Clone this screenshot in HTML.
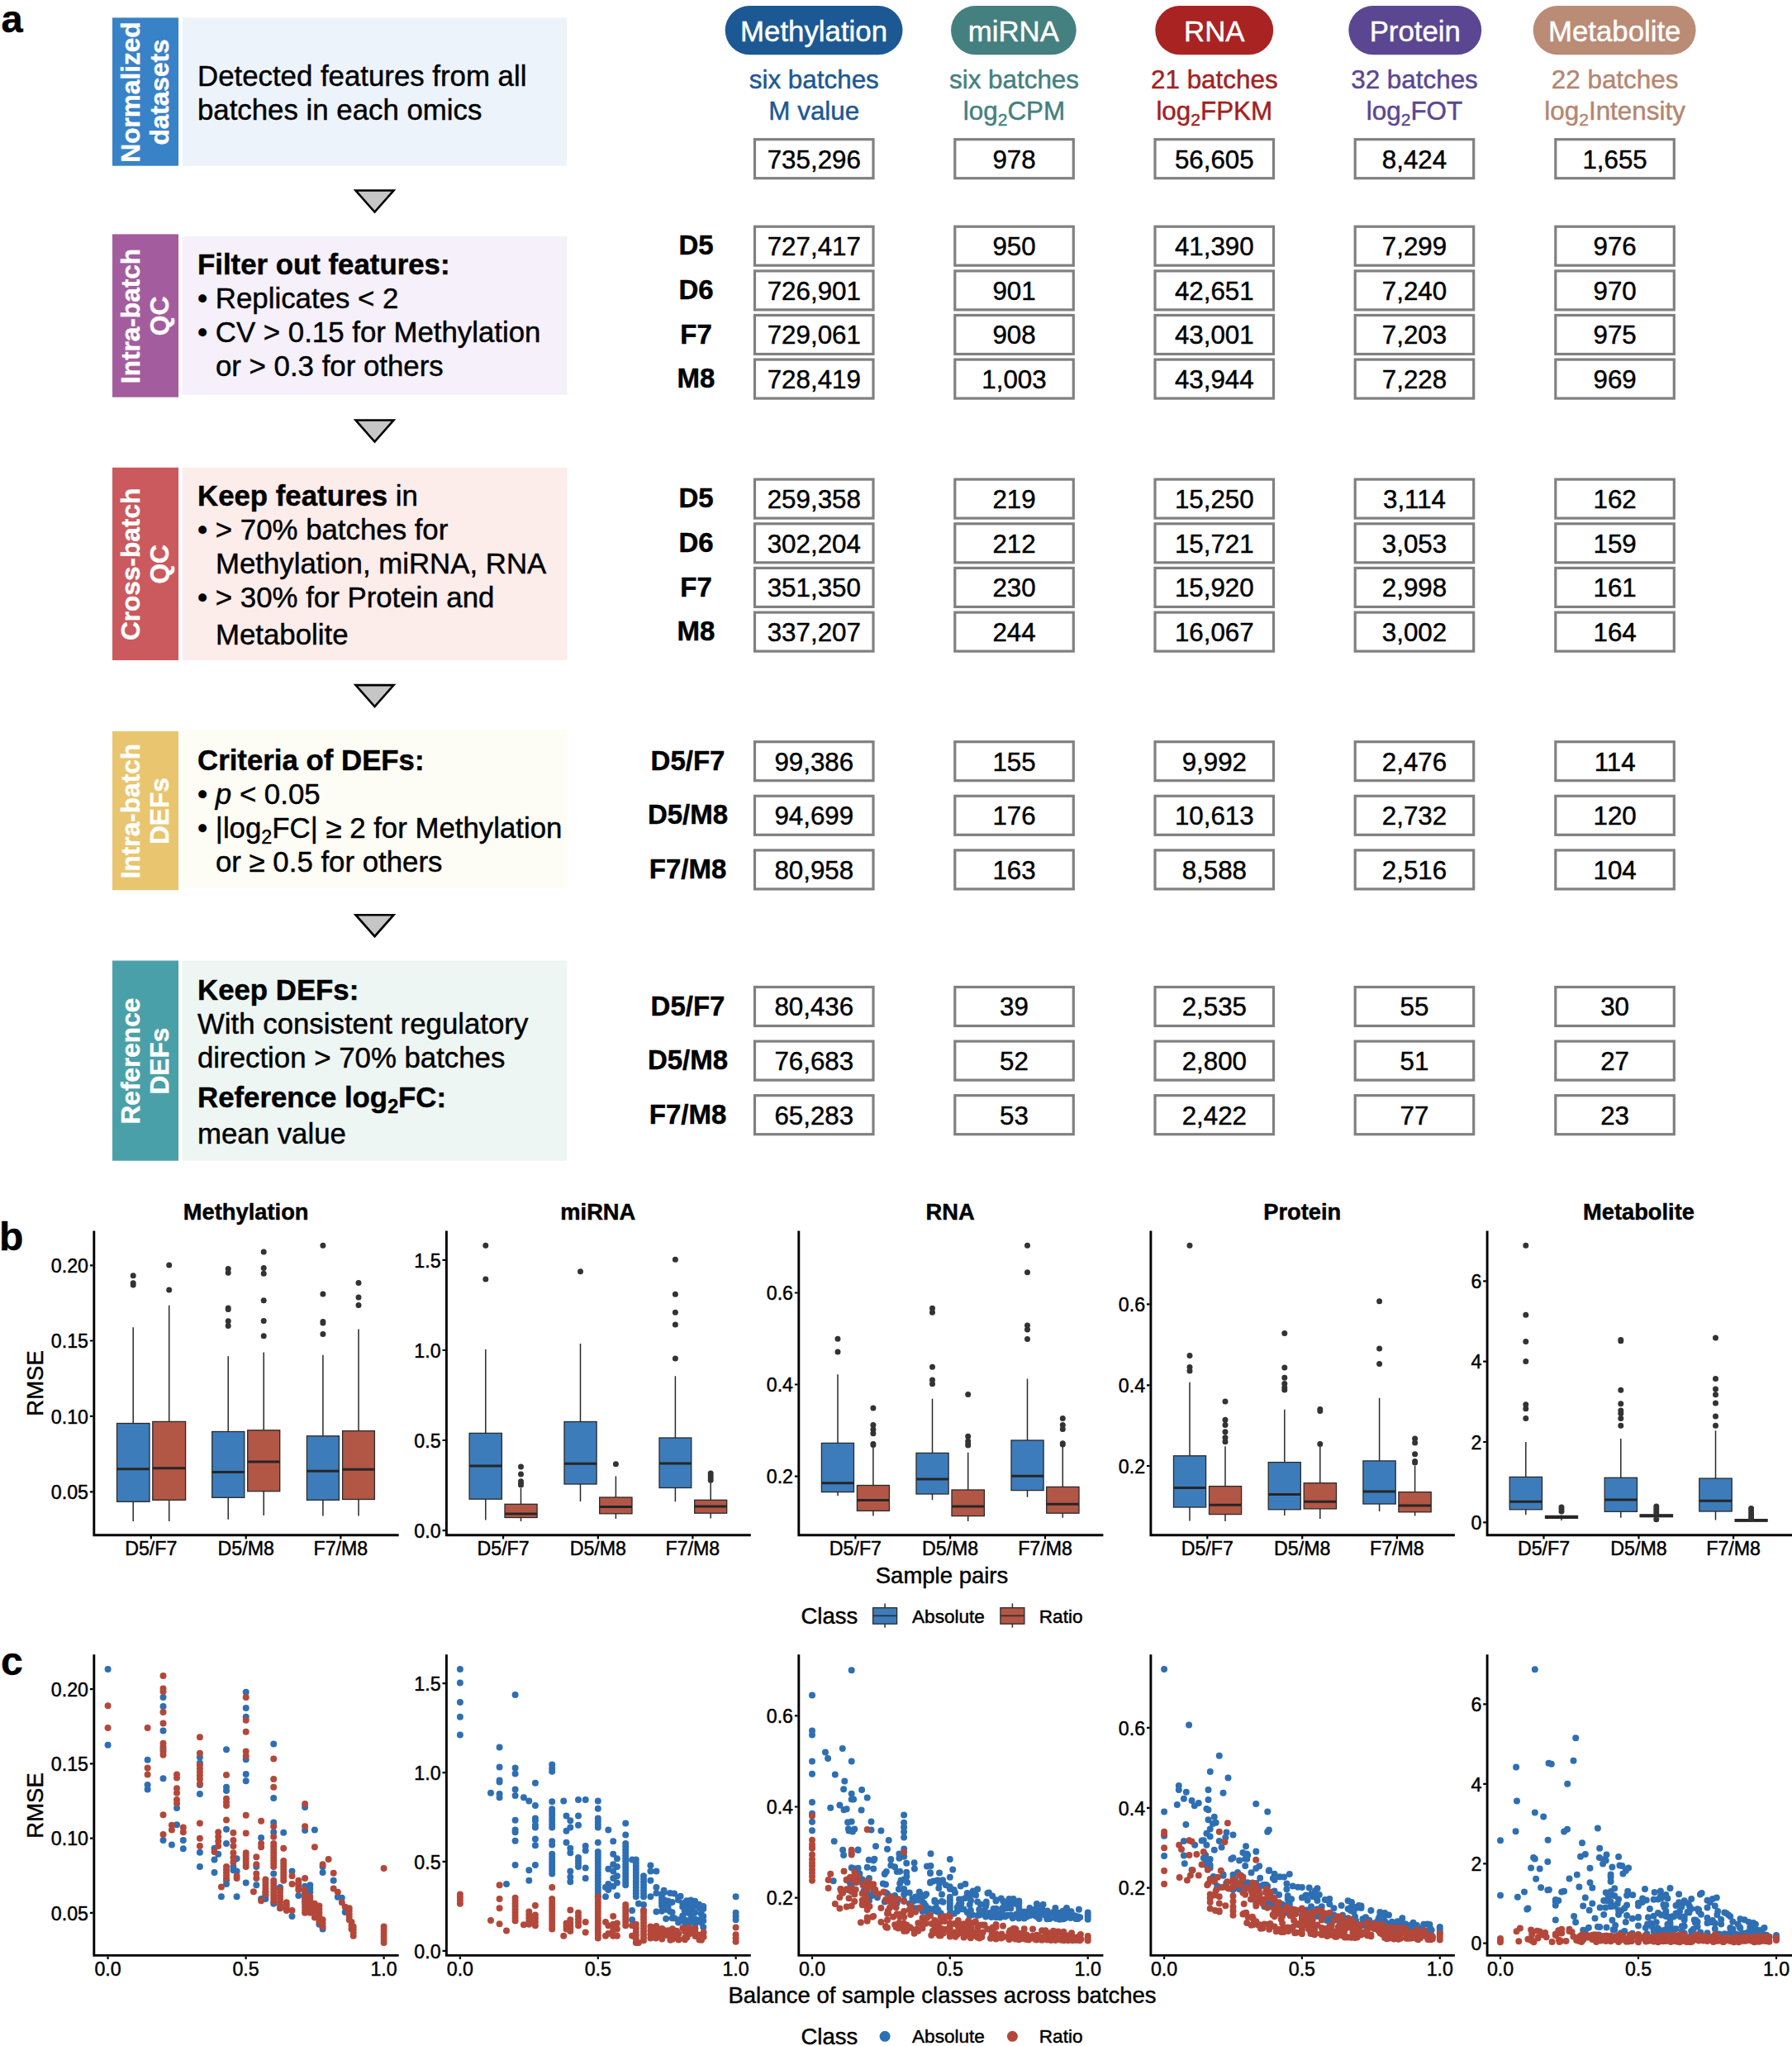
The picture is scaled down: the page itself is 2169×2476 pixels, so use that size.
<!DOCTYPE html>
<html lang="en"><head><meta charset="utf-8"><title>Figure</title>
<style>html,body{margin:0;padding:0;background:#fff}svg{display:block}text{font-family:"Liberation Sans", sans-serif;fill:#000;stroke:#000;stroke-width:0.45px}.b{font-weight:bold}.m{text-anchor:middle}.e{text-anchor:end}.t{font-size:34.8px}.n{font-size:31.3px}.n2{font-size:31.4px}.k{font-size:23.2px}.a{font-size:27.5px}.ax{stroke:#000;stroke-width:2.9;fill:none}.tk{stroke:#000;stroke-width:2.2;fill:none}.bx{stroke:#2a2a2a;stroke-width:1.3}.wh{stroke:#2a2a2a;stroke-width:1.5;fill:none}.md{stroke:#262626;stroke-width:3;fill:none}.ol{stroke:#333;stroke-width:7;stroke-linecap:round;fill:none}.sb{stroke:#2e6fb3;stroke-width:8;stroke-linecap:round;fill:none}.sr{stroke:#b3483a;stroke-width:8;stroke-linecap:round;fill:none}.cell{fill:#fff;stroke:#808080;stroke-width:3.2}</style></head><body>
<svg width="2169" height="2476" viewBox="0 0 2169 2476">
<rect width="2169" height="2476" fill="#fff"/>
<text class="b" x="1.5" y="38.5" font-size="47">a</text>
<text class="b" x="-1" y="1513" font-size="48">b</text>
<text class="b" x="1" y="2027" font-size="48">c</text>
<rect x="136" y="21.4" width="80" height="179.3" fill="#3882c8"/>
<rect x="221" y="21.4" width="465.3" height="179.3" fill="#edf3fa"/>
<text class="b m" font-size="31.6" style="fill:#fff;stroke:#fff" transform="translate(169 111.5) rotate(-90)">Normalized</text>
<text class="b m" font-size="31.6" style="fill:#fff;stroke:#fff" transform="translate(203.6 111.5) rotate(-90)">datasets</text>
<rect x="136" y="283.4" width="80" height="197.3" fill="#a35d9f"/>
<rect x="221" y="286" width="465.3" height="192" fill="#f5f0f9"/>
<text class="b m" font-size="31.6" style="fill:#fff;stroke:#fff" transform="translate(169 382.5) rotate(-90)">Intra-batch</text>
<text class="b m" font-size="31.6" style="fill:#fff;stroke:#fff" transform="translate(203.6 382.5) rotate(-90)">QC</text>
<rect x="136" y="565.8" width="80" height="233.2" fill="#ca5a5e"/>
<rect x="221" y="565.8" width="465.3" height="233.2" fill="#fcecea"/>
<text class="b m" font-size="31.6" style="fill:#fff;stroke:#fff" transform="translate(169 682.9) rotate(-90)">Cross-batch</text>
<text class="b m" font-size="31.6" style="fill:#fff;stroke:#fff" transform="translate(203.6 682.9) rotate(-90)">QC</text>
<rect x="136" y="885" width="80" height="192.2" fill="#e9c56f"/>
<rect x="221" y="883.5" width="465.3" height="191.5" fill="#fdfcf5"/>
<text class="b m" font-size="31.6" style="fill:#fff;stroke:#fff" transform="translate(169 981.6) rotate(-90)">Intra-batch</text>
<text class="b m" font-size="31.6" style="fill:#fff;stroke:#fff" transform="translate(203.6 981.6) rotate(-90)">DEFs</text>
<rect x="136" y="1162.5" width="80" height="242.2" fill="#4aa0a9"/>
<rect x="221" y="1162.5" width="465.3" height="242.2" fill="#eef6f3"/>
<text class="b m" font-size="31.6" style="fill:#fff;stroke:#fff" transform="translate(169 1284.1) rotate(-90)">Reference</text>
<text class="b m" font-size="31.6" style="fill:#fff;stroke:#fff" transform="translate(203.6 1284.1) rotate(-90)">DEFs</text>
<path d="M430.5 230.5 H476.5 L453.5 256.5 Z" fill="#c6c6c6" stroke="#000" stroke-width="2.6" stroke-linejoin="miter"/>
<path d="M430.5 508.5 H476.5 L453.5 534.5 Z" fill="#c6c6c6" stroke="#000" stroke-width="2.6" stroke-linejoin="miter"/>
<path d="M430.5 829.1 H476.5 L453.5 855.1 Z" fill="#c6c6c6" stroke="#000" stroke-width="2.6" stroke-linejoin="miter"/>
<path d="M430.5 1107.2 H476.5 L453.5 1133.2 Z" fill="#c6c6c6" stroke="#000" stroke-width="2.6" stroke-linejoin="miter"/>
<text class="t" x="239" y="103.5">Detected features from all</text>
<text class="t" x="239" y="144.5">batches in each omics</text>
<text class="t b" x="239" y="332.3">Filter out features:</text>
<text class="t" x="239" y="373.3">• Replicates &lt; 2</text>
<text class="t" x="239" y="414.3">• CV &gt; 0.15 for Methylation</text>
<text class="t" x="261" y="455.3">or &gt; 0.3 for others</text>
<text class="t" x="239" y="612.3"><tspan class="b">Keep features</tspan> in</text>
<text class="t" x="239" y="653.3">• &gt; 70% batches for</text>
<text class="t" x="261" y="694.3">Methylation, miRNA, RNA</text>
<text class="t" x="239" y="735.3">• &gt; 30% for Protein and</text>
<text class="t" x="261" y="780.2">Metabolite</text>
<text class="t b" x="239" y="931.5">Criteria of DEFs:</text>
<text class="t" x="239" y="972.5">• <tspan font-style="italic">p</tspan> &lt; 0.05</text>
<text class="t" x="239" y="1013.5">• |log<tspan dy="7.5" font-size="0.67em">2</tspan><tspan dy="-7.5">FC| ≥ 2 for Methylation</tspan></text>
<text class="t" x="261" y="1054.5">or ≥ 0.5 for others</text>
<text class="t b" x="239" y="1210.2">Keep DEFs:</text>
<text class="t" x="239" y="1251.2">With consistent regulatory</text>
<text class="t" x="239" y="1292.2">direction &gt; 70% batches</text>
<text class="t b" x="239" y="1339.5">Reference log<tspan dy="7.5" font-size="0.67em">2</tspan><tspan dy="-7.5">FC:</tspan></text>
<text class="t" x="239" y="1384">mean value</text>
<rect x="877.7" y="7" width="214.8" height="59.2" rx="29.6" fill="#1c5894"/>
<text class="m" x="985.1" y="50" font-size="34.8" style="fill:#fff;stroke:#fff">Methylation</text>
<text class="m n2" x="985.3" y="106.6" style="fill:#1c5894;stroke:#1c5894">six batches</text>
<text class="m n2" x="985.3" y="144.5" style="fill:#1c5894;stroke:#1c5894">M value</text>
<rect x="1151" y="7" width="151.7" height="59.2" rx="29.6" fill="#44807f"/>
<text class="m" x="1226.8" y="50" font-size="34.8" style="fill:#fff;stroke:#fff">miRNA</text>
<text class="m n2" x="1227.5" y="106.6" style="fill:#44807f;stroke:#44807f">six batches</text>
<text class="m n2" x="1227.5" y="144.5" style="fill:#44807f;stroke:#44807f">log<tspan dy="7.5" font-size="0.67em">2</tspan><tspan dy="-7.5">CPM</tspan></text>
<rect x="1398.3" y="7" width="142.9" height="59.2" rx="29.6" fill="#a92323"/>
<text class="m" x="1469.8" y="50" font-size="34.8" style="fill:#fff;stroke:#fff">RNA</text>
<text class="m n2" x="1469.8" y="106.6" style="fill:#a02222;stroke:#a02222">21 batches</text>
<text class="m n2" x="1469.8" y="144.5" style="fill:#a02222;stroke:#a02222">log<tspan dy="7.5" font-size="0.67em">2</tspan><tspan dy="-7.5">FPKM</tspan></text>
<rect x="1632.3" y="7" width="160.9" height="59.2" rx="29.6" fill="#5b4692"/>
<text class="m" x="1712.8" y="50" font-size="34.8" style="fill:#fff;stroke:#fff">Protein</text>
<text class="m n2" x="1712" y="106.6" style="fill:#5b4692;stroke:#5b4692">32 batches</text>
<text class="m n2" x="1712" y="144.5" style="fill:#5b4692;stroke:#5b4692">log<tspan dy="7.5" font-size="0.67em">2</tspan><tspan dy="-7.5">FOT</tspan></text>
<rect x="1855.7" y="7" width="196.9" height="59.2" rx="29.6" fill="#ba8b75"/>
<text class="m" x="1954.2" y="50" font-size="34.8" style="fill:#fff;stroke:#fff">Metabolite</text>
<text class="m n2" x="1954.6" y="106.6" style="fill:#b58670;stroke:#b58670">22 batches</text>
<text class="m n2" x="1954.6" y="144.5" style="fill:#b58670;stroke:#b58670">log<tspan dy="7.5" font-size="0.67em">2</tspan><tspan dy="-7.5">Intensity</tspan></text>
<rect class="cell" x="913.5" y="168.7" width="143.5" height="47"/>
<text class="m n" x="985.3" y="203.6">735,296</text>
<rect class="cell" x="1155.8" y="168.7" width="143.5" height="47"/>
<text class="m n" x="1227.5" y="203.6">978</text>
<rect class="cell" x="1398" y="168.7" width="143.5" height="47"/>
<text class="m n" x="1469.8" y="203.6">56,605</text>
<rect class="cell" x="1640.2" y="168.7" width="143.5" height="47"/>
<text class="m n" x="1712" y="203.6">8,424</text>
<rect class="cell" x="1882.8" y="168.7" width="143.5" height="47"/>
<text class="m n" x="1954.6" y="203.6">1,655</text>
<text class="b m" x="842.5" y="308.3" font-size="33">D5</text>
<rect class="cell" x="913.5" y="274.2" width="143.5" height="47"/>
<text class="m n" x="985.3" y="309.1">727,417</text>
<rect class="cell" x="1155.8" y="274.2" width="143.5" height="47"/>
<text class="m n" x="1227.5" y="309.1">950</text>
<rect class="cell" x="1398" y="274.2" width="143.5" height="47"/>
<text class="m n" x="1469.8" y="309.1">41,390</text>
<rect class="cell" x="1640.2" y="274.2" width="143.5" height="47"/>
<text class="m n" x="1712" y="309.1">7,299</text>
<rect class="cell" x="1882.8" y="274.2" width="143.5" height="47"/>
<text class="m n" x="1954.6" y="309.1">976</text>
<text class="b m" x="842.5" y="362" font-size="33">D6</text>
<rect class="cell" x="913.5" y="327.9" width="143.5" height="47"/>
<text class="m n" x="985.3" y="362.8">726,901</text>
<rect class="cell" x="1155.8" y="327.9" width="143.5" height="47"/>
<text class="m n" x="1227.5" y="362.8">901</text>
<rect class="cell" x="1398" y="327.9" width="143.5" height="47"/>
<text class="m n" x="1469.8" y="362.8">42,651</text>
<rect class="cell" x="1640.2" y="327.9" width="143.5" height="47"/>
<text class="m n" x="1712" y="362.8">7,240</text>
<rect class="cell" x="1882.8" y="327.9" width="143.5" height="47"/>
<text class="m n" x="1954.6" y="362.8">970</text>
<text class="b m" x="842.5" y="415.6" font-size="33">F7</text>
<rect class="cell" x="913.5" y="381.5" width="143.5" height="47"/>
<text class="m n" x="985.3" y="416.4">729,061</text>
<rect class="cell" x="1155.8" y="381.5" width="143.5" height="47"/>
<text class="m n" x="1227.5" y="416.4">908</text>
<rect class="cell" x="1398" y="381.5" width="143.5" height="47"/>
<text class="m n" x="1469.8" y="416.4">43,001</text>
<rect class="cell" x="1640.2" y="381.5" width="143.5" height="47"/>
<text class="m n" x="1712" y="416.4">7,203</text>
<rect class="cell" x="1882.8" y="381.5" width="143.5" height="47"/>
<text class="m n" x="1954.6" y="416.4">975</text>
<text class="b m" x="842.5" y="469.2" font-size="33">M8</text>
<rect class="cell" x="913.5" y="435.1" width="143.5" height="47"/>
<text class="m n" x="985.3" y="470">728,419</text>
<rect class="cell" x="1155.8" y="435.1" width="143.5" height="47"/>
<text class="m n" x="1227.5" y="470">1,003</text>
<rect class="cell" x="1398" y="435.1" width="143.5" height="47"/>
<text class="m n" x="1469.8" y="470">43,944</text>
<rect class="cell" x="1640.2" y="435.1" width="143.5" height="47"/>
<text class="m n" x="1712" y="470">7,228</text>
<rect class="cell" x="1882.8" y="435.1" width="143.5" height="47"/>
<text class="m n" x="1954.6" y="470">969</text>
<text class="b m" x="842.5" y="614.2" font-size="33">D5</text>
<rect class="cell" x="913.5" y="580.1" width="143.5" height="47"/>
<text class="m n" x="985.3" y="615">259,358</text>
<rect class="cell" x="1155.8" y="580.1" width="143.5" height="47"/>
<text class="m n" x="1227.5" y="615">219</text>
<rect class="cell" x="1398" y="580.1" width="143.5" height="47"/>
<text class="m n" x="1469.8" y="615">15,250</text>
<rect class="cell" x="1640.2" y="580.1" width="143.5" height="47"/>
<text class="m n" x="1712" y="615">3,114</text>
<rect class="cell" x="1882.8" y="580.1" width="143.5" height="47"/>
<text class="m n" x="1954.6" y="615">162</text>
<text class="b m" x="842.5" y="667.9" font-size="33">D6</text>
<rect class="cell" x="913.5" y="633.8" width="143.5" height="47"/>
<text class="m n" x="985.3" y="668.7">302,204</text>
<rect class="cell" x="1155.8" y="633.8" width="143.5" height="47"/>
<text class="m n" x="1227.5" y="668.7">212</text>
<rect class="cell" x="1398" y="633.8" width="143.5" height="47"/>
<text class="m n" x="1469.8" y="668.7">15,721</text>
<rect class="cell" x="1640.2" y="633.8" width="143.5" height="47"/>
<text class="m n" x="1712" y="668.7">3,053</text>
<rect class="cell" x="1882.8" y="633.8" width="143.5" height="47"/>
<text class="m n" x="1954.6" y="668.7">159</text>
<text class="b m" x="842.5" y="721.5" font-size="33">F7</text>
<rect class="cell" x="913.5" y="687.4" width="143.5" height="47"/>
<text class="m n" x="985.3" y="722.3">351,350</text>
<rect class="cell" x="1155.8" y="687.4" width="143.5" height="47"/>
<text class="m n" x="1227.5" y="722.3">230</text>
<rect class="cell" x="1398" y="687.4" width="143.5" height="47"/>
<text class="m n" x="1469.8" y="722.3">15,920</text>
<rect class="cell" x="1640.2" y="687.4" width="143.5" height="47"/>
<text class="m n" x="1712" y="722.3">2,998</text>
<rect class="cell" x="1882.8" y="687.4" width="143.5" height="47"/>
<text class="m n" x="1954.6" y="722.3">161</text>
<text class="b m" x="842.5" y="775.2" font-size="33">M8</text>
<rect class="cell" x="913.5" y="741.1" width="143.5" height="47"/>
<text class="m n" x="985.3" y="776">337,207</text>
<rect class="cell" x="1155.8" y="741.1" width="143.5" height="47"/>
<text class="m n" x="1227.5" y="776">244</text>
<rect class="cell" x="1398" y="741.1" width="143.5" height="47"/>
<text class="m n" x="1469.8" y="776">16,067</text>
<rect class="cell" x="1640.2" y="741.1" width="143.5" height="47"/>
<text class="m n" x="1712" y="776">3,002</text>
<rect class="cell" x="1882.8" y="741.1" width="143.5" height="47"/>
<text class="m n" x="1954.6" y="776">164</text>
<text class="b m" x="832.5" y="931.8" font-size="33">D5/F7</text>
<rect class="cell" x="913.5" y="897.7" width="143.5" height="47"/>
<text class="m n" x="985.3" y="932.6">99,386</text>
<rect class="cell" x="1155.8" y="897.7" width="143.5" height="47"/>
<text class="m n" x="1227.5" y="932.6">155</text>
<rect class="cell" x="1398" y="897.7" width="143.5" height="47"/>
<text class="m n" x="1469.8" y="932.6">9,992</text>
<rect class="cell" x="1640.2" y="897.7" width="143.5" height="47"/>
<text class="m n" x="1712" y="932.6">2,476</text>
<rect class="cell" x="1882.8" y="897.7" width="143.5" height="47"/>
<text class="m n" x="1954.6" y="932.6">114</text>
<text class="b m" x="832.5" y="997.4" font-size="33">D5/M8</text>
<rect class="cell" x="913.5" y="963.3" width="143.5" height="47"/>
<text class="m n" x="985.3" y="998.2">94,699</text>
<rect class="cell" x="1155.8" y="963.3" width="143.5" height="47"/>
<text class="m n" x="1227.5" y="998.2">176</text>
<rect class="cell" x="1398" y="963.3" width="143.5" height="47"/>
<text class="m n" x="1469.8" y="998.2">10,613</text>
<rect class="cell" x="1640.2" y="963.3" width="143.5" height="47"/>
<text class="m n" x="1712" y="998.2">2,732</text>
<rect class="cell" x="1882.8" y="963.3" width="143.5" height="47"/>
<text class="m n" x="1954.6" y="998.2">120</text>
<text class="b m" x="832.5" y="1063" font-size="33">F7/M8</text>
<rect class="cell" x="913.5" y="1028.9" width="143.5" height="47"/>
<text class="m n" x="985.3" y="1063.8">80,958</text>
<rect class="cell" x="1155.8" y="1028.9" width="143.5" height="47"/>
<text class="m n" x="1227.5" y="1063.8">163</text>
<rect class="cell" x="1398" y="1028.9" width="143.5" height="47"/>
<text class="m n" x="1469.8" y="1063.8">8,588</text>
<rect class="cell" x="1640.2" y="1028.9" width="143.5" height="47"/>
<text class="m n" x="1712" y="1063.8">2,516</text>
<rect class="cell" x="1882.8" y="1028.9" width="143.5" height="47"/>
<text class="m n" x="1954.6" y="1063.8">104</text>
<text class="b m" x="832.5" y="1228.6" font-size="33">D5/F7</text>
<rect class="cell" x="913.5" y="1194.5" width="143.5" height="47"/>
<text class="m n" x="985.3" y="1229.4">80,436</text>
<rect class="cell" x="1155.8" y="1194.5" width="143.5" height="47"/>
<text class="m n" x="1227.5" y="1229.4">39</text>
<rect class="cell" x="1398" y="1194.5" width="143.5" height="47"/>
<text class="m n" x="1469.8" y="1229.4">2,535</text>
<rect class="cell" x="1640.2" y="1194.5" width="143.5" height="47"/>
<text class="m n" x="1712" y="1229.4">55</text>
<rect class="cell" x="1882.8" y="1194.5" width="143.5" height="47"/>
<text class="m n" x="1954.6" y="1229.4">30</text>
<text class="b m" x="832.5" y="1294.2" font-size="33">D5/M8</text>
<rect class="cell" x="913.5" y="1260.1" width="143.5" height="47"/>
<text class="m n" x="985.3" y="1295">76,683</text>
<rect class="cell" x="1155.8" y="1260.1" width="143.5" height="47"/>
<text class="m n" x="1227.5" y="1295">52</text>
<rect class="cell" x="1398" y="1260.1" width="143.5" height="47"/>
<text class="m n" x="1469.8" y="1295">2,800</text>
<rect class="cell" x="1640.2" y="1260.1" width="143.5" height="47"/>
<text class="m n" x="1712" y="1295">51</text>
<rect class="cell" x="1882.8" y="1260.1" width="143.5" height="47"/>
<text class="m n" x="1954.6" y="1295">27</text>
<text class="b m" x="832.5" y="1359.8" font-size="33">F7/M8</text>
<rect class="cell" x="913.5" y="1325.7" width="143.5" height="47"/>
<text class="m n" x="985.3" y="1360.6">65,283</text>
<rect class="cell" x="1155.8" y="1325.7" width="143.5" height="47"/>
<text class="m n" x="1227.5" y="1360.6">53</text>
<rect class="cell" x="1398" y="1325.7" width="143.5" height="47"/>
<text class="m n" x="1469.8" y="1360.6">2,422</text>
<rect class="cell" x="1640.2" y="1325.7" width="143.5" height="47"/>
<text class="m n" x="1712" y="1360.6">77</text>
<rect class="cell" x="1882.8" y="1325.7" width="143.5" height="47"/>
<text class="m n" x="1954.6" y="1360.6">23</text>
<text class="b m" x="297.7" y="1476" font-size="27.3">Methylation</text>
<path class="ax" d="M113.8 1489.4 V1857.7 H482.7"/>
<text class="k e" x="107" y="1540">0.20</text>
<text class="k e" x="107" y="1631.2">0.15</text>
<text class="k e" x="107" y="1722.5">0.10</text>
<text class="k e" x="107" y="1814">0.05</text>
<text class="k m" x="182.8" y="1882">D5/F7</text>
<text class="k m" x="297.7" y="1882">D5/M8</text>
<text class="k m" x="412.4" y="1882">F7/M8</text>
<path class="tk" d="M112.5 1531.3h-3.6M112.5 1622.5h-3.6M112.5 1713.8h-3.6M112.5 1805.3h-3.6M182.8 1859v3.4M297.7 1859v3.4M412.4 1859v3.4"/>
<path class="wh" d="M161.2 1606.3V1722.5M161.2 1817.3V1841"/>
<rect class="bx" x="141.5" y="1722.5" width="39.5" height="94.8" fill="#3d7cbb"/>
<path class="md" d="M141.5 1777.8H181"/>
<path class="wh" d="M204.7 1579.8V1720.4M204.7 1815.3V1841"/>
<rect class="bx" x="184.8" y="1720.4" width="39.8" height="94.9" fill="#b25646"/>
<path class="md" d="M184.8 1776.7H224.6"/>
<path class="wh" d="M276.2 1641.2V1732.5M276.2 1812.3V1838.8"/>
<rect class="bx" x="256.7" y="1732.5" width="39.1" height="79.8" fill="#3d7cbb"/>
<path class="md" d="M256.7 1781.6H295.8"/>
<path class="wh" d="M319.2 1636.5V1730.8M319.2 1804.7V1834"/>
<rect class="bx" x="299.7" y="1730.8" width="39" height="73.9" fill="#b25646"/>
<path class="md" d="M299.7 1769H338.7"/>
<path class="wh" d="M390.9 1639.8V1737.8M390.9 1815.3V1834.6"/>
<rect class="bx" x="371.4" y="1737.8" width="39" height="77.5" fill="#3d7cbb"/>
<path class="md" d="M371.4 1780.2H410.4"/>
<path class="wh" d="M434 1608.6V1731.6M434 1814.5V1834.6"/>
<rect class="bx" x="414.6" y="1731.6" width="38.8" height="82.9" fill="#b25646"/>
<path class="md" d="M414.6 1778.2H453.4"/>
<path class="ol" d="M161.2 1543.8h0M161.2 1552.8h0M161.2 1555h0M204.7 1531h0M204.7 1560.9h0M276.2 1535.5h0M276.2 1540.2h0M276.2 1582.9h0M276.2 1584.6h0M276.2 1598.8h0M276.2 1604.4h0M319.2 1515.1h0M319.2 1534.6h0M319.2 1541.3h0M319.2 1573.7h0M319.2 1598.5h0M319.2 1616.7h0M390.9 1507.3h0M390.9 1565.9h0M390.9 1599.4h0M390.9 1601h0M390.9 1614.4h0M434 1552.5h0M434 1570h0M434 1579.6h0"/>
<text class="b m" x="723.8" y="1476" font-size="27.3">miRNA</text>
<path class="ax" d="M540.4 1489.4 V1857.7 H908.8"/>
<text class="k e" x="533.6" y="1533.6">1.5</text>
<text class="k e" x="533.6" y="1642.7">1.0</text>
<text class="k e" x="533.6" y="1751.7">0.5</text>
<text class="k e" x="533.6" y="1860.9">0.0</text>
<text class="k m" x="609.1" y="1882">D5/F7</text>
<text class="k m" x="723.8" y="1882">D5/M8</text>
<text class="k m" x="838.4" y="1882">F7/M8</text>
<path class="tk" d="M539.1 1524.9h-3.6M539.1 1634h-3.6M539.1 1743h-3.6M539.1 1852.2h-3.6M609.1 1859v3.4M723.8 1859v3.4M838.4 1859v3.4"/>
<path class="wh" d="M587.8 1633.1V1734.4M587.8 1814.2V1839.6"/>
<rect class="bx" x="568.1" y="1734.4" width="39.3" height="79.8" fill="#3d7cbb"/>
<path class="md" d="M568.1 1774H607.4"/>
<path class="wh" d="M630.5 1801V1820.3M630.5 1836.5V1841"/>
<rect class="bx" x="611" y="1820.3" width="39.1" height="16.2" fill="#b25646"/>
<path class="md" d="M611 1832H650.1"/>
<path class="wh" d="M702.5 1625.9V1720.5M702.5 1796V1817"/>
<rect class="bx" x="683" y="1720.5" width="39.1" height="75.5" fill="#3d7cbb"/>
<path class="md" d="M683 1771.2H722.1"/>
<path class="wh" d="M745.4 1786.6V1812M745.4 1831.8V1838"/>
<rect class="bx" x="725.7" y="1812" width="39.3" height="19.8" fill="#b25646"/>
<path class="md" d="M725.7 1823.4H765"/>
<path class="wh" d="M817.4 1665.2V1740M817.4 1800.5V1817.3"/>
<rect class="bx" x="798" y="1740" width="38.8" height="60.5" fill="#3d7cbb"/>
<path class="md" d="M798 1771H836.8"/>
<path class="wh" d="M860.2 1794.1V1815.3M860.2 1831.2V1837.4"/>
<rect class="bx" x="840.7" y="1815.3" width="39" height="15.9" fill="#b25646"/>
<path class="md" d="M840.7 1823.1H879.7"/>
<path class="ol" d="M587.8 1507.3h0M587.8 1548h0M630.5 1775.1h0M630.5 1784h0M630.5 1792.7h0M630.5 1795h0M630.5 1797h0M702.5 1538.8h0M745.4 1771.8h0M817.4 1524.3h0M817.4 1566.2h0M817.4 1588.2h0M817.4 1603h0M817.4 1644h0M860.2 1783h0M860.2 1785.8h0M860.2 1788.5h0M860.2 1791.3h0"/>
<text class="b m" x="1150.1" y="1476" font-size="27.3">RNA</text>
<path class="ax" d="M966.8 1489.4 V1857.7 H1335.4"/>
<text class="k e" x="960" y="1573.2">0.6</text>
<text class="k e" x="960" y="1684.2">0.4</text>
<text class="k e" x="960" y="1795.3">0.2</text>
<text class="k m" x="1035.4" y="1882">D5/F7</text>
<text class="k m" x="1150.1" y="1882">D5/M8</text>
<text class="k m" x="1265" y="1882">F7/M8</text>
<path class="tk" d="M965.5 1564.5h-3.6M965.5 1675.5h-3.6M965.5 1786.6h-3.6M1035.4 1859v3.4M1150.1 1859v3.4M1265 1859v3.4"/>
<path class="wh" d="M1014 1663.3V1746.4M1014 1805.6V1810.3"/>
<rect class="bx" x="994.4" y="1746.4" width="39.1" height="59.2" fill="#3d7cbb"/>
<path class="md" d="M994.4 1794.7H1033.5"/>
<path class="wh" d="M1056.9 1748V1797.5M1056.9 1828.4V1834.6"/>
<rect class="bx" x="1037.4" y="1797.5" width="39" height="30.9" fill="#b25646"/>
<path class="md" d="M1037.4 1815.6H1076.4"/>
<path class="wh" d="M1128.5 1692.8V1758.4M1128.5 1808V1815.3"/>
<rect class="bx" x="1109" y="1758.4" width="39.1" height="49.6" fill="#3d7cbb"/>
<path class="md" d="M1109 1790H1148.1"/>
<path class="wh" d="M1171.7 1757.8V1803M1171.7 1834.6V1841"/>
<rect class="bx" x="1152" y="1803" width="39.4" height="31.6" fill="#b25646"/>
<path class="md" d="M1152 1822.9H1191.4"/>
<path class="wh" d="M1243.5 1668.6V1743M1243.5 1803.6V1811.7"/>
<rect class="bx" x="1224" y="1743" width="39.1" height="60.6" fill="#3d7cbb"/>
<path class="md" d="M1224 1786.3H1263.1"/>
<path class="wh" d="M1286.3 1750.9V1799.4M1286.3 1831.2V1836.8"/>
<rect class="bx" x="1266.7" y="1799.4" width="39.3" height="31.8" fill="#b25646"/>
<path class="md" d="M1266.7 1820.3H1306"/>
<path class="ol" d="M1014 1620.3h0M1014 1635.9h0M1056.9 1704h0M1056.9 1724.6h0M1056.9 1730h0M1056.9 1734.7h0M1056.9 1747.5h0M1056.9 1748.6h0M1128.5 1583.2h0M1128.5 1588.2h0M1128.5 1654.3h0M1128.5 1670h0M1128.5 1674.7h0M1171.7 1687.5h0M1171.7 1738.3h0M1171.7 1743.9h0M1171.7 1746.7h0M1171.7 1748.9h0M1243.5 1507.3h0M1243.5 1539.7h0M1243.5 1604.1h0M1243.5 1608.9h0M1243.5 1620.6h0M1286.3 1716.5h0M1286.3 1724.4h0M1286.3 1729.4h0M1286.3 1746.7h0M1286.3 1748h0"/>
<text class="b m" x="1576.2" y="1476" font-size="27.3">Protein</text>
<path class="ax" d="M1392.9 1489.4 V1857.7 H1760.9"/>
<text class="k e" x="1386.1" y="1587.1">0.6</text>
<text class="k e" x="1386.1" y="1685.1">0.4</text>
<text class="k e" x="1386.1" y="1782.7">0.2</text>
<text class="k m" x="1461.3" y="1882">D5/F7</text>
<text class="k m" x="1576.2" y="1882">D5/M8</text>
<text class="k m" x="1690.9" y="1882">F7/M8</text>
<path class="tk" d="M1391.6 1578.4h-3.6M1391.6 1676.4h-3.6M1391.6 1774h-3.6M1461.3 1859v3.4M1576.2 1859v3.4M1690.9 1859v3.4"/>
<path class="wh" d="M1440 1672.7V1761.8M1440 1824V1840.4"/>
<rect class="bx" x="1420.5" y="1761.8" width="39.1" height="62.2" fill="#3d7cbb"/>
<path class="md" d="M1420.5 1800.5H1459.6"/>
<path class="wh" d="M1483 1750.3V1798.6M1483 1832.6V1841"/>
<rect class="bx" x="1463.5" y="1798.6" width="39.1" height="34" fill="#b25646"/>
<path class="md" d="M1463.5 1821.2H1502.6"/>
<path class="wh" d="M1554.8 1705.7V1769.6M1554.8 1826.8V1834"/>
<rect class="bx" x="1535.2" y="1769.6" width="39.1" height="57.2" fill="#3d7cbb"/>
<path class="md" d="M1535.2 1808.6H1574.3"/>
<path class="wh" d="M1597.8 1750.9V1794.7M1597.8 1825.9V1838"/>
<rect class="bx" x="1578.2" y="1794.7" width="39.3" height="31.2" fill="#b25646"/>
<path class="md" d="M1578.2 1817.3H1617.5"/>
<path class="wh" d="M1669.6 1691.7V1767.9M1669.6 1820V1829"/>
<rect class="bx" x="1649.9" y="1767.9" width="39.3" height="52.1" fill="#3d7cbb"/>
<path class="md" d="M1649.9 1805H1689.2"/>
<path class="wh" d="M1712.6 1773.8V1805.6M1712.6 1829.8V1834.6"/>
<rect class="bx" x="1692.9" y="1805.6" width="39.3" height="24.2" fill="#b25646"/>
<path class="md" d="M1692.9 1822H1732.2"/>
<path class="ol" d="M1440 1507.3h0M1440 1640.4h0M1440 1654.6h0M1440 1659h0M1483 1696h0M1483 1718.2h0M1483 1724.4h0M1483 1732.7h0M1483 1739.7h0M1483 1744.7h0M1554.8 1613.6h0M1554.8 1654.9h0M1554.8 1667.2h0M1554.8 1674.4h0M1554.8 1679.2h0M1554.8 1682h0M1597.8 1705.4h0M1597.8 1707.6h0M1597.8 1747.5h0M1669.6 1574.8h0M1669.6 1632h0M1669.6 1650.4h0M1712.6 1741.1h0M1712.6 1746.1h0M1712.6 1759.8h0M1712.6 1768.4h0M1712.6 1770.1h0"/>
<text class="b m" x="1983.5" y="1476" font-size="27.3">Metabolite</text>
<path class="ax" d="M1800.1 1489.4 V1857.7 H2169"/>
<text class="k e" x="1793.3" y="1559">6</text>
<text class="k e" x="1793.3" y="1656.3">4</text>
<text class="k e" x="1793.3" y="1753.7">2</text>
<text class="k e" x="1793.3" y="1851.1">0</text>
<text class="k m" x="1868.5" y="1882">D5/F7</text>
<text class="k m" x="1983.5" y="1882">D5/M8</text>
<text class="k m" x="2098.1" y="1882">F7/M8</text>
<path class="tk" d="M1798.8 1550.3h-3.6M1798.8 1647.6h-3.6M1798.8 1745h-3.6M1798.8 1842.4h-3.6M1868.5 1859v3.4M1983.5 1859v3.4M2098.1 1859v3.4"/>
<path class="wh" d="M1846.8 1745V1787.4M1846.8 1826.8V1833.2"/>
<rect class="bx" x="1827.2" y="1787.4" width="39.3" height="39.4" fill="#3d7cbb"/>
<path class="md" d="M1827.2 1817.3H1866.5"/>
<path class="wh" d="M1890 1833.5V1834.4M1890 1837.4V1840"/>
<rect class="bx" x="1870.5" y="1834.4" width="39" height="3" fill="#b25646"/>
<path class="md" d="M1870.5 1835.9H1909.5"/>
<path class="wh" d="M1961.8 1741.1V1788.3M1961.8 1829.3V1836.8"/>
<rect class="bx" x="1942.2" y="1788.3" width="39.3" height="41" fill="#3d7cbb"/>
<path class="md" d="M1942.2 1815H1981.5"/>
<path class="wh" d="M2004.8 1832V1832.9M2004.8 1835.7V1837"/>
<rect class="bx" x="1985.1" y="1832.9" width="39.4" height="2.8" fill="#b25646"/>
<path class="md" d="M1985.1 1834.3H2024.5"/>
<path class="wh" d="M2076.5 1731.3V1789.1M2076.5 1829V1839.6"/>
<rect class="bx" x="2056.8" y="1789.1" width="39.4" height="39.9" fill="#3d7cbb"/>
<path class="md" d="M2056.8 1816.2H2096.2"/>
<path class="wh" d="M2119.6 1838V1838.7M2119.6 1841.1V1842"/>
<rect class="bx" x="2100.1" y="1838.7" width="39" height="2.4" fill="#b25646"/>
<path class="md" d="M2100.1 1839.9H2139.1"/>
<path class="ol" d="M1846.8 1507.3h0M1846.8 1591.3h0M1846.8 1623.4h0M1846.8 1647.4h0M1846.8 1699.8h0M1846.8 1704.8h0M1846.8 1716.5h0M1890 1824h0M1890 1826.2h0M1890 1829h0M1961.8 1621.4h0M1961.8 1622.7h0M1961.8 1682.2h0M1961.8 1698.7h0M1961.8 1707h0M1961.8 1710.4h0M1961.8 1716.5h0M1961.8 1725.2h0M2004.8 1823h0M2004.8 1825h0M2004.8 1827h0M2004.8 1829h0M2004.8 1831h0M2004.8 1838.8h0M2076.5 1618.9h0M2076.5 1668.6h0M2076.5 1681.1h0M2076.5 1687.8h0M2076.5 1697.9h0M2076.5 1714h0M2076.5 1725.2h0M2119.6 1825.6h0M2119.6 1828h0M2119.6 1830.5h0M2119.6 1833h0M2119.6 1835.5h0M2119.6 1837.4h0"/>
<text class="a m" transform="translate(51.5 1674) rotate(-90)">RMSE</text>
<text class="a m" transform="translate(51.5 2185) rotate(-90)">RMSE</text>
<text class="a m" x="1140" y="1916">Sample pairs</text>
<text class="a m" x="1140.5" y="2423.8">Balance of sample classes across batches</text>
<text class="a" x="969.5" y="1965.3">Class</text>
<path class="wh" d="M1071.1 1940.4V1969.7"/>
<rect class="bx" x="1056.6" y="1945.7" width="29" height="19.5" fill="#3d7cbb"/>
<path class="wh" d="M1056.6 1955.4h29"/>
<text class="k" x="1104" y="1964" style="font-size:22.6px">Absolute</text>
<path class="wh" d="M1225.4 1940.4V1969.7"/>
<rect class="bx" x="1210.9" y="1945.7" width="29" height="19.5" fill="#b25646"/>
<path class="wh" d="M1210.9 1955.4h29"/>
<text class="k" x="1257.8" y="1964" style="font-size:22.6px">Ratio</text>
<text class="a" x="969.5" y="2473.6">Class</text>
<path class="sb" style="stroke-width:13" d="M1071.1 2464.3h0"/><path class="sr" style="stroke-width:13" d="M1225.4 2464.3h0"/>
<text class="k" x="1104" y="2472.2" style="font-size:22.6px">Absolute</text>
<text class="k" x="1257.8" y="2472.2" style="font-size:22.6px">Ratio</text>
<path class="ax" d="M113.8 2002.3 V2366.4 H482.7"/>
<text class="k e" x="107" y="2052.9">0.20</text>
<text class="k e" x="107" y="2143">0.15</text>
<text class="k e" x="107" y="2233.4">0.10</text>
<text class="k e" x="107" y="2323.5">0.05</text>
<text class="k m" x="130.6" y="2390.7">0.0</text>
<text class="k m" x="297.6" y="2390.7">0.5</text>
<text class="k m" x="464.6" y="2390.7">1.0</text>
<path class="tk" d="M112.5 2044.2h-3.6M112.5 2134.3h-3.6M112.5 2224.7h-3.6M112.5 2314.8h-3.6M130.6 2367.7v3.4M297.6 2367.7v3.4M464.6 2367.7v3.4"/>
<path class="sb" d="M130.6 2019.9h0M130.6 2111.7h0M178.6 2129.8h0M178.6 2160h0M178.6 2165.5h0M197.5 2053.9h0M197.5 2065.1h0M197.5 2094.4h0M197.5 2116.7h0M197.5 2152.2h0M197.5 2226.9h0M207.9 2232.5h0M214 2187.9h0M214 2208.2h0M221.8 2226.9h0M221.8 2237.3h0M241.9 2126.5h0M241.9 2133.5h0M241.9 2160h0M241.9 2171.1h0M241.9 2241.7h0M241.9 2259h0M259.5 2236.7h0M259.5 2250.6h0M259.5 2266h0M264.2 2243.7h0M267.9 2295.3h0M274 2117.3h0M274 2162.8h0M274 2166.9h0M274 2213.8h0M274 2231.1h0M274 2275.8h0M274 2279.9h0M282.4 2259h0M282.4 2263.2h0M286.6 2249.3h0M286.6 2264.6h0M286.6 2295.3h0M297.7 2047.8h0M297.7 2067.1h0M297.7 2077.7h0M297.7 2129.3h0M297.7 2146.9h0M297.7 2155.2h0M297.7 2278.5h0M310.3 2259h0M310.3 2281.3h0M316.1 2224.1h0M316.1 2298.1h0M321.4 2289.7h0M321.4 2293.9h0M321.4 2298.1h0M331.2 2110.6h0M331.2 2175.9h0M331.2 2205.4h0M331.2 2217.2h0M331.2 2267.4h0M331.2 2303.7h0M339 2284.1h0M339 2309.2h0M343.2 2217.7h0M353.5 2264.6h0M353.5 2319h0M361.3 2293.9h0M369.1 2187h0M369.1 2214.9h0M369.1 2282.7h0M369.1 2286.4h0M369.1 2290h0M369.1 2293.6h0M369.1 2297.2h0M369.1 2300.9h0M375.3 2281.3h0M375.3 2285.5h0M375.3 2289.7h0M380.9 2214.4h0M386.4 2328.8h0M390.6 2259h0M390.6 2266h0M390.6 2334.4h0M403.7 2275.8h0M408.8 2295.8h0M413.8 2296.7h0M417.7 2314h0"/>
<path class="sr" d="M130.6 2064.3h0M130.6 2091h0M178.6 2091h0M178.6 2139.6h0M178.6 2147.4h0M197.5 2028h0M197.5 2043.6h0M197.5 2047h0M197.5 2072.1h0M197.5 2085.5h0M197.5 2109.7h0M197.5 2113.9h0M197.5 2119.5h0M197.5 2123.7h0M197.5 2196.2h0M197.5 2220h0M207.9 2208.8h0M207.9 2214.4h0M214 2147.4h0M214 2151.6h0M214 2164.2h0M214 2169.7h0M214 2178.1h0M214 2182.3h0M221.8 2211.6h0M221.8 2217.2h0M241.9 2102.2h0M241.9 2121.7h0M241.9 2136.2h0M241.9 2140.4h0M241.9 2144.6h0M241.9 2148.8h0M241.9 2153h0M241.9 2158.6h0M241.9 2206.6h0M241.9 2224.7h0M241.9 2233.9h0M259.5 2240.9h0M264.2 2217.2h0M264.2 2222.7h0M264.2 2228.3h0M264.2 2233.9h0M267.9 2283.6h0M274 2148h0M274 2176.7h0M274 2180.9h0M274 2185.1h0M274 2202.4h0M274 2259h0M274 2262.5h0M274 2266h0M274 2269.5h0M274 2273h0M282.4 2218h0M282.4 2226.9h0M282.4 2233.9h0M282.4 2242.3h0M282.4 2247.9h0M282.4 2253.4h0M286.6 2270.2h0M286.6 2273h0M297.7 2053.9h0M297.7 2081.8h0M297.7 2095.8h0M297.7 2119.5h0M297.7 2125.1h0M297.7 2196.8h0M297.7 2218.6h0M297.7 2242.3h0M297.7 2245.6h0M297.7 2249h0M297.7 2252.3h0M297.7 2255.7h0M297.7 2259h0M306.9 2289.2h0M310.3 2247.3h0M310.3 2256.2h0M310.3 2267.4h0M310.3 2273h0M316.1 2203.8h0M316.1 2231.1h0M316.1 2235.3h0M316.1 2300.3h0M321.4 2274.4h0M321.4 2278h0M321.4 2281.6h0M321.4 2285.2h0M321.4 2288.9h0M321.4 2292.5h0M331.2 2128.4h0M331.2 2153h0M331.2 2162.8h0M331.2 2210.2h0M331.2 2222.7h0M331.2 2231.1h0M331.2 2234.6h0M331.2 2238.1h0M331.2 2241.6h0M331.2 2245.1h0M331.2 2248.6h0M331.2 2252h0M331.2 2255.5h0M331.2 2259h0M331.2 2275.8h0M331.2 2279.3h0M331.2 2282.9h0M331.2 2286.5h0M331.2 2290.1h0M331.2 2293.7h0M331.2 2297.3h0M331.2 2300.9h0M339 2286.9h0M339 2290.6h0M339 2294.4h0M339 2298.1h0M339 2301.8h0M339 2305.5h0M339 2309.2h0M343.2 2236.7h0M343.2 2252h0M343.2 2255.4h0M343.2 2258.8h0M343.2 2262.2h0M343.2 2265.6h0M343.2 2269h0M343.2 2272.4h0M343.2 2275.8h0M346.8 2302.3h0M346.8 2305.5h0M346.8 2308.8h0M346.8 2312h0M353.5 2270.2h0M353.5 2279.9h0M353.5 2312h0M361.3 2275.8h0M361.3 2279.5h0M361.3 2283.2h0M361.3 2286.9h0M369.1 2183.1h0M369.1 2210.2h0M369.1 2273h0M369.1 2286.9h0M369.1 2290.4h0M369.1 2293.9h0M369.1 2297.4h0M369.1 2300.9h0M369.1 2304.4h0M369.1 2307.8h0M369.1 2311.3h0M369.1 2314.8h0M375.3 2295.3h0M375.3 2299.2h0M375.3 2303.1h0M375.3 2307h0M375.3 2310.9h0M375.3 2314.8h0M380.9 2235.3h0M380.9 2303.7h0M380.9 2307h0M380.9 2310.4h0M380.9 2313.7h0M380.9 2317.1h0M380.9 2320.4h0M386.4 2306.5h0M386.4 2310.4h0M386.4 2314.3h0M386.4 2318.2h0M386.4 2322.1h0M386.4 2326h0M390.6 2256.2h0M390.6 2323.2h0M390.6 2327.4h0M390.6 2331.6h0M397.6 2250.1h0M403.7 2266.8h0M403.7 2285.5h0M408.8 2289.7h0M413.8 2302.3h0M417.7 2307.8h0M422.7 2309.2h0M422.7 2312.7h0M422.7 2316.2h0M422.7 2319.7h0M422.7 2323.2h0M425.5 2326h0M425.5 2330.2h0M425.5 2334.4h0M427.7 2331.6h0M427.7 2335.3h0M427.7 2339h0M427.7 2342.7h0M464.6 2261h0M464.6 2331.6h0M464.6 2335.5h0M464.6 2339.4h0M464.6 2343.3h0M464.6 2347.2h0M464.6 2351.1h0"/>
<path class="ax" d="M540.4 2002.3 V2366.4 H908.8"/>
<text class="k e" x="533.6" y="2045.9">1.5</text>
<text class="k e" x="533.6" y="2153.9">1.0</text>
<text class="k e" x="533.6" y="2261.6">0.5</text>
<text class="k e" x="533.6" y="2369.6">0.0</text>
<text class="k m" x="556.9" y="2390.7">0.0</text>
<text class="k m" x="723.8" y="2390.7">0.5</text>
<text class="k m" x="890.6" y="2390.7">1.0</text>
<path class="tk" d="M539.1 2037.2h-3.6M539.1 2145.2h-3.6M539.1 2252.9h-3.6M539.1 2360.9h-3.6M556.9 2367.7v3.4M723.8 2367.7v3.4M890.6 2367.7v3.4"/>
<path class="sb" d="M556.9 2019.9h0M556.9 2036.6h0M556.9 2060.1h0M556.9 2077.7h0M556.9 2099.4h0M594 2169.7h0M604.6 2114.5h0M604.6 2138.5h0M604.6 2154.4h0M604.6 2156.6h0M604.6 2171.1h0M604.6 2175.3h0M613 2279.9h0M623.6 2051.1h0M623.6 2139.6h0M623.6 2146.6h0M623.6 2165.5h0M623.6 2173.1h0M623.6 2202.7h0M623.6 2214.4h0M623.6 2217.2h0M623.6 2227.8h0M623.6 2257.1h0M633.9 2175.3h0M640.3 2179.5h0M640.3 2263.2h0M640.3 2275.8h0M647.9 2157.7h0M647.9 2185.1h0M647.9 2200.4h0M647.9 2203.2h0M647.9 2208.8h0M647.9 2211.6h0M647.9 2225.5h0M647.9 2233.3h0M647.9 2257.1h0M668.2 2135.4h0M668.2 2139.9h0M668.2 2143.8h0M668.2 2180.3h0M668.2 2189.3h0M668.2 2193h0M668.2 2196.7h0M668.2 2200.4h0M668.2 2204.1h0M668.2 2207.9h0M668.2 2211.6h0M668.2 2228.3h0M668.2 2232.5h0M668.2 2243.7h0M668.2 2247.1h0M668.2 2250.4h0M668.2 2253.8h0M668.2 2257.2h0M668.2 2260.6h0M668.2 2264h0M668.2 2267.4h0M682.2 2179.5h0M685.5 2197.6h0M685.5 2215.8h0M685.5 2229.7h0M690.3 2203.2h0M690.3 2211.6h0M690.3 2236.7h0M690.3 2242.3h0M690.3 2264.6h0M690.3 2271.6h0M690.3 2277.2h0M700 2178.1h0M700 2197.6h0M700 2208.8h0M700 2247.9h0M700 2251.6h0M700 2255.3h0M700 2259h0M708.7 2178.1h0M708.7 2233.9h0M708.7 2239.5h0M708.7 2260.4h0M708.7 2273h0M723.8 2179.5h0M723.8 2188.7h0M723.8 2200.4h0M723.8 2204.1h0M723.8 2207.9h0M723.8 2211.6h0M723.8 2229.7h0M723.8 2240.9h0M723.8 2244.5h0M723.8 2248.1h0M723.8 2251.8h0M723.8 2255.4h0M723.8 2259h0M723.8 2262.6h0M723.8 2266.3h0M723.8 2269.9h0M723.8 2273.5h0M723.8 2277.2h0M723.8 2280.8h0M723.8 2284.4h0M723.8 2288h0M723.8 2291.7h0M723.8 2295.3h0M733 2284.1h0M733 2295.3h0M736.3 2214.4h0M736.3 2261.8h0M736.3 2279.9h0M736.3 2286.9h0M742.2 2228.3h0M742.2 2243.7h0M742.2 2256.2h0M742.2 2264.6h0M742.2 2273h0M742.2 2282.7h0M746.9 2249.3h0M746.9 2259h0M746.9 2270.2h0M746.9 2278.5h0M746.9 2293.9h0M757.2 2206.6h0M757.2 2220.5h0M757.2 2231.1h0M757.2 2234.7h0M757.2 2238.3h0M757.2 2241.9h0M757.2 2245.5h0M757.2 2249.1h0M757.2 2252.6h0M757.2 2256.2h0M757.2 2259.8h0M757.2 2263.4h0M757.2 2267h0M757.2 2270.6h0M757.2 2274.2h0M757.2 2277.8h0M757.2 2281.3h0M765.1 2323.2h0M765.1 2250.6h0M765.1 2312h0M769.8 2250.6h0M769.8 2254.4h0M769.8 2258.1h0M769.8 2261.8h0M769.8 2265.5h0M769.8 2269.2h0M769.8 2273h0M769.8 2276.7h0M769.8 2280.4h0M769.8 2284.1h0M769.8 2287.8h0M769.8 2291.6h0M769.8 2295.3h0M772.9 2303.7h0M779 2270.2h0M779 2273.8h0M779 2277.4h0M779 2280.9h0M779 2284.5h0M779 2288.1h0M779 2291.7h0M779 2295.3h0M779 2305.1h0M779 2312h0M787.4 2257.6h0M787.4 2264.6h0M787.4 2275.8h0M787.4 2295.3h0M794.4 2264.6h0M794.4 2284.1h0M794.4 2291.1h0M794.4 2313.4h0M890.6 2295.3h0M890.6 2314.8h0M890.6 2319h0M890.6 2323.2h0M851.3 2332.2h0M803.6 2290.2h0M846.2 2324.1h0M838.7 2307.9h0M836.2 2317h0M833.7 2301.7h0M826.2 2307.5h0M841.2 2331.3h0M851.3 2319.1h0M826.2 2303.4h0M803.6 2287.7h0M828.7 2305.4h0M823.6 2323.9h0M831.2 2314.5h0M816.1 2291.6h0M821.1 2297.1h0M831.2 2329.1h0M838.7 2303.8h0M848.8 2326.7h0M841.2 2328.5h0M841.2 2325h0M821.1 2326.6h0M851.3 2306.9h0M841.2 2322.4h0M828.7 2312.6h0M828.7 2326.3h0M828.7 2323.3h0M821.1 2323.2h0M848.8 2315.9h0M833.7 2327.1h0M841.2 2314.5h0M813.6 2301.9h0M838.7 2303.6h0M848.8 2309.7h0M848.8 2311.1h0M851.3 2324.5h0M831.2 2312.7h0M836.2 2317h0M821.1 2299.3h0M831.2 2326.9h0M836.2 2299.5h0M843.7 2323.6h0M848.8 2307.2h0M841.2 2300.7h0M836.2 2306.5h0M816.1 2321.3h0M808.6 2306.9h0M846.2 2308.3h0M813.6 2321.2h0M826.2 2318.4h0M801 2299.6h0M811.1 2313.3h0M806.1 2321.9h0M801 2312.7h0M801 2295.5h0M843.7 2304.9h0M813.6 2314.2h0M823.6 2294.8h0M851.3 2307h0M803.6 2299.1h0M836.2 2321.7h0M808.6 2300.4h0M801 2302.7h0M843.7 2323.4h0M848.8 2325.4h0M846.2 2323.4h0M828.7 2302.4h0M838.7 2308.1h0M806.1 2304.2h0M846.2 2304.7h0M833.7 2309.6h0M831.2 2300.2h0M851.3 2310.1h0M836.2 2310.8h0M801 2306.3h0M811.1 2291h0M801 2292.4h0M806.1 2310.7h0"/>
<path class="sr" d="M556.9 2292.5h0M556.9 2296.2h0M556.9 2299.9h0M556.9 2303.7h0M594 2324h0M604.6 2281.3h0M604.6 2298.1h0M604.6 2309.2h0M604.6 2328.2h0M613 2336.6h0M623.6 2296.7h0M623.6 2300.2h0M623.6 2303.7h0M623.6 2307.1h0M623.6 2310.6h0M623.6 2314.1h0M623.6 2317.6h0M623.6 2321.1h0M623.6 2324.6h0M633.9 2329.3h0M640.3 2313.4h0M640.3 2317.3h0M640.3 2321.1h0M640.3 2324.9h0M640.3 2328.8h0M647.9 2305.9h0M647.9 2317.6h0M647.9 2321.8h0M647.9 2326h0M647.9 2330.2h0M668.2 2284.1h0M668.2 2298.1h0M668.2 2301.7h0M668.2 2305.3h0M668.2 2309h0M668.2 2312.6h0M668.2 2316.2h0M668.2 2319.8h0M668.2 2323.5h0M668.2 2327.1h0M668.2 2330.7h0M668.2 2334.4h0M682.2 2342.7h0M685.5 2327.4h0M685.5 2330.9h0M685.5 2334.4h0M690.3 2311.5h0M690.3 2323.2h0M690.3 2326.7h0M690.3 2330.2h0M690.3 2333.7h0M690.3 2337.1h0M700 2314.8h0M700 2318.7h0M700 2322.5h0M700 2326.3h0M700 2330.2h0M708.7 2326h0M708.7 2338.5h0M723.8 2295.3h0M723.8 2298.9h0M723.8 2302.5h0M723.8 2306.1h0M723.8 2309.6h0M723.8 2313.2h0M723.8 2316.8h0M723.8 2320.4h0M723.8 2324h0M723.8 2327.6h0M723.8 2331.2h0M723.8 2334.8h0M723.8 2338.3h0M723.8 2341.9h0M723.8 2345.5h0M733 2326h0M733 2342.7h0M736.3 2330.2h0M736.3 2339.9h0M742.2 2319h0M742.2 2328.8h0M742.2 2335.7h0M742.2 2342.7h0M746.9 2327.4h0M746.9 2334.4h0M746.9 2342.7h0M757.2 2305.1h0M757.2 2308.6h0M757.2 2312.2h0M757.2 2315.8h0M757.2 2319.4h0M757.2 2323h0M757.2 2326.6h0M757.2 2330.2h0M765.1 2330.2h0M765.1 2342.7h0M769.8 2328.8h0M769.8 2333.2h0M769.8 2337.7h0M769.8 2342.2h0M769.8 2346.6h0M769.8 2351.1h0M772.9 2351.1h0M779 2312h0M779 2315.7h0M779 2319.3h0M779 2322.9h0M779 2326.5h0M779 2330.2h0M779 2333.8h0M779 2337.4h0M779 2341h0M779 2344.7h0M779 2348.3h0M787.4 2331.6h0M787.4 2336.2h0M787.4 2340.9h0M787.4 2345.5h0M794.4 2331h0M794.4 2337.1h0M794.4 2342.7h0M890.6 2332.4h0M890.6 2341.3h0M890.6 2345.5h0M890.6 2349.7h0M821.4 2347.5h0M849 2347.7h0M803.8 2339.7h0M803.8 2341.9h0M829 2344.9h0M834 2336.7h0M816.4 2340.9h0M788.8 2332.9h0M813.9 2334.3h0M834 2336.5h0M796.3 2335.5h0M803.8 2336.1h0M821.4 2340h0M808.9 2342.6h0M801.3 2346.4h0M851.6 2343.9h0M816.4 2340.7h0M826.4 2333.2h0M816.4 2340.9h0M801.3 2334h0M841.5 2338.4h0M821.4 2346.6h0M829 2337.2h0M851.6 2338.5h0M788.8 2343.2h0M796.3 2337.5h0M841.5 2343.1h0M788.8 2339.8h0M813.9 2340.3h0M801.3 2341.8h0M793.8 2337.2h0M813.9 2346.8h0M793.8 2344.3h0M801.3 2341.6h0M813.9 2339.9h0M836.5 2338.9h0M796.3 2334.5h0M793.8 2345.6h0M829 2347.2h0M834 2332.7h0M831.5 2344.6h0M834 2340.5h0M811.4 2339.8h0M839 2336.9h0M821.4 2340.2h0M849 2345h0M849 2345.4h0M808.9 2336.3h0M818.9 2336.8h0M816.4 2343.2h0M846.5 2341.8h0M841.5 2334h0M811.4 2347.7h0M798.8 2339.2h0M793.8 2333.8h0M846.5 2347.6h0M831.5 2334.6h0M808.9 2336.3h0M831.5 2343.2h0M816.4 2340.9h0M796.3 2341.1h0M849 2344.3h0"/>
<path class="ax" d="M966.8 2002.3 V2366.4 H1335.4"/>
<text class="k e" x="960" y="2085">0.6</text>
<text class="k e" x="960" y="2195.2">0.4</text>
<text class="k e" x="960" y="2305.4">0.2</text>
<text class="k m" x="983" y="2390.7">0.0</text>
<text class="k m" x="1149.8" y="2390.7">0.5</text>
<text class="k m" x="1316.7" y="2390.7">1.0</text>
<path class="tk" d="M965.5 2076.3h-3.6M965.5 2186.5h-3.6M965.5 2296.7h-3.6M983 2367.7v3.4M1149.8 2367.7v3.4M1316.7 2367.7v3.4"/>
<path class="sb" d="M1283.3 2320.6h0M1021.1 2165.3h0M1135.5 2311.5h0M1307.2 2320.3h0M1054.5 2214.6h0M1193.8 2304.1h0M1057.2 2251.5h0M1316.7 2314.4h0M1211.8 2297.5h0M1238.8 2316.8h0M1111.3 2309.2h0M1181.1 2293.6h0M1193.1 2307.3h0M1119.5 2294h0M1030.7 2289.1h0M1058.4 2249.8h0M1269 2320.4h0M1225.7 2321.2h0M1176.8 2317.2h0M1221.4 2298.1h0M1121.1 2292.2h0M1033.1 2177.6h0M1136.3 2285h0M1133.2 2308.8h0M1219.4 2304.5h0M1162.7 2282.6h0M1210.5 2320.5h0M1094.2 2286.1h0M1049.7 2276.3h0M1304.8 2321.9h0M1017.5 2286.2h0M1085.7 2264.9h0M1089.2 2264.8h0M1252.5 2318h0M1027.5 2215.4h0M1154.9 2315.8h0M1088.4 2248.8h0M1149.8 2283.3h0M1283.3 2322.5h0M1215.1 2318.3h0M1230.2 2316.6h0M1054.5 2204.5h0M1226.5 2298.1h0M1141.1 2275.3h0M1126 2266.9h0M1038.6 2277.3h0M1205.5 2320.3h0M1122 2258.6h0M1239.7 2321.6h0M1088.4 2243.4h0M1038.6 2273.7h0M1149.8 2295.8h0M1220.1 2317.7h0M1030.7 2242.4h0M1030.7 2241.5h0M1205.5 2315.1h0M1190.1 2316.3h0M1149.8 2299.1h0M1270.7 2321.9h0M1149.8 2286.1h0M1213.1 2309.3h0M1168.4 2297.1h0M1083.1 2259.3h0M1205.5 2319.6h0M1094.2 2246.8h0M1030.7 2284.3h0M1193.8 2301.5h0M1034.3 2213.4h0M1068.8 2279.6h0M1026.9 2213.3h0M1040.5 2267.6h0M1154.6 2286.9h0M1126 2278.6h0M1024.7 2275.3h0M1216.6 2305.3h0M1072 2280.6h0M1193.1 2319.4h0M1090.6 2275.4h0M1246.4 2318.2h0M1030.7 2204.4h0M1228.9 2303.7h0M1085.7 2303h0M1137 2275.9h0M1074 2291.7h0M1052 2272.9h0M1183.2 2318h0M1106.9 2261.4h0M1021.1 2245h0M1094.2 2300.3h0M1140 2292.5h0M1173.7 2318.4h0M1254.1 2309.6h0M1010.8 2147.6h0M1221.4 2306.8h0M1149.8 2316h0M1214.7 2317.4h0M1177.7 2288.4h0M1233.3 2308h0M1287.7 2316.5h0M1030.7 2170.8h0M1265.4 2317.9h0M1287.7 2314.7h0M1030.7 2177.5h0M1051.7 2250.8h0M1239.7 2313.4h0M1141.5 2301.8h0M1052.5 2294.9h0M1233.3 2319.5h0M1089.2 2279.2h0M1137 2279.2h0M1168.4 2279.9h0M1078.3 2257.4h0M1038.6 2238.6h0M1214 2300.6h0M1108.1 2297.1h0M1098.1 2278h0M1288.9 2321.5h0M1246.4 2313.5h0M1100.8 2303.7h0M1235.5 2319.4h0M1030.7 2287.3h0M1264 2316.9h0M1111.3 2299.6h0M1030.7 2260.3h0M1020.1 2238.8h0M1246.4 2309h0M1026.1 2205.2h0M1149.8 2316.2h0M1118.6 2303.6h0M1267.6 2319.5h0M1275 2314h0M1304.8 2319.5h0M1131.3 2312.3h0M1316.7 2322.8h0M1250 2313.5h0M1296.5 2313.2h0M1138.7 2315.5h0M1108.1 2295.5h0M1038.6 2260.8h0M1081.1 2303.3h0M1233.3 2308.9h0M1195.4 2291.1h0M1122 2313.6h0M1009.7 2228.2h0M1283.3 2322.6h0M1316.7 2318.3h0M1060 2234.2h0M1303.9 2321.5h0M1269 2316h0M1254.1 2318.9h0M1201.2 2294.4h0M1233.3 2313.9h0M1212.4 2314.5h0M1286.4 2312.7h0M1078.3 2250.1h0M1032.1 2216.6h0M1134.7 2275.6h0M1124.2 2309.5h0M1134.7 2313.6h0M1316.7 2317.7h0M1112.8 2289.5h0M1163.4 2303.4h0M1257.8 2322.1h0M1233.3 2300.4h0M1140 2301.1h0M1316.7 2320.5h0M1131.3 2299.7h0M1094.2 2275.1h0M1052 2300h0M1302.8 2321.5h0M1277.4 2309h0M1137.9 2314.9h0M1097.2 2254.8h0M1191.6 2312h0M1078.3 2250.3h0M1094.2 2237.6h0M1305.9 2310.7h0M1002.1 2128h0M1045.6 2288.9h0M1280.6 2319.1h0M1100.8 2290.5h0M1156 2290.5h0M1041 2272.5h0M1284.4 2322.4h0M1042.6 2190.5h0M1113.6 2298.6h0M1292 2314.9h0M1062 2294.5h0M1185.6 2317.5h0M1116.5 2301.3h0M1175.1 2299.9h0M1224 2317.7h0M1149.8 2271.7h0M1209.1 2317.7h0M1005.2 2187.8h0M1267.6 2312.5h0M1217.5 2309.6h0M1055.5 2293.9h0M1033.1 2261.1h0M1149.8 2304h0M1062 2296.2h0M1269 2321.5h0M1149.8 2298.1h0M1041.4 2274.8h0M1028.5 2287.4h0M1104.3 2297.4h0M1282.2 2322.7h0M1236.6 2319.5h0M1137 2266.4h0M1216.6 2319.4h0M1250 2313.7h0M1261.1 2308.1h0M1302.2 2322.1h0M1259.5 2316.5h0M1066.4 2215.5h0M1275 2315.6h0M1126 2277.8h0M1170.7 2291h0M1173.7 2294.3h0M1233.3 2321.5h0M1043.7 2274.5h0M1094.2 2292.3h0M1149.8 2308.2h0M1038.6 2269.4h0M1261.1 2311.9h0M1245.9 2315.5h0M1074 2237.7h0M1205.5 2318.7h0M1045.6 2288.3h0M1173.7 2314.3h0M1036.4 2278.1h0M1297.1 2317.4h0M1254.9 2303.9h0M1094.2 2274.5h0M1158.6 2313.1h0M1160.3 2305.2h0M1272.8 2316.1h0M1205.5 2299.2h0M1183.2 2286.2h0M1173.7 2305h0M1149.8 2306.8h0M1174.9 2311.7h0M1126 2266.3h0M1256 2319.9h0M1116.5 2313.1h0M1083.1 2294.1h0M1209.9 2316h0M1242.5 2314.1h0M1199.5 2319.2h0M1108.1 2309.3h0M1024.7 2189.2h0M1295.8 2320.9h0M1226.5 2299.6h0M1163.8 2298.5h0M1016.4 2184.6h0M1286.4 2320.1h0M1158.6 2308.3h0M1205.5 2309.7h0M1049.7 2259.8h0M1196.9 2290.6h0M1105.9 2300.6h0M1214 2309.5h0M1106.6 2254.3h0M1097.2 2265.7h0M1261.1 2308.4h0M1075.7 2227h0M1205.5 2318.5h0M1183.2 2301.4h0M1108.1 2296h0M1170.7 2314.3h0M1278.2 2321.8h0M1094.2 2300.1h0M1094.2 2292.7h0M1070.8 2267.5h0M1214 2309.2h0M1215.6 2303.9h0M1287.3 2322.3h0M1211.3 2318.8h0M1262.6 2304.7h0M1087.9 2286.2h0M1197.5 2315.1h0M1292.9 2317.3h0M1161.8 2310.5h0M1022.3 2155.6h0M1233.3 2303.5h0M1166.5 2310.5h0M1129 2310.5h0M1236.2 2314.2h0M1290 2318.6h0M1283.3 2314.7h0M1097.4 2270.8h0M1149.8 2301.1h0M1072 2290.3h0M1202.3 2317.4h0M1149.8 2301.3h0M1120.4 2306.2h0M1267.3 2322.2h0M1291 2309h0M1021.5 2190.3h0M1225.7 2301.5h0M1256 2312.9h0M1264.6 2316.9h0M1029 2278.9h0M1049.7 2292.2h0M1186.9 2304.5h0M1057.2 2288.6h0M1242.5 2319.7h0M1205.5 2300.6h0M1161 2298.6h0M1008.7 2276.3h0M1202.5 2310h0M1144.8 2281.3h0M1131.3 2301.3h0M1129.8 2276.4h0M1185.2 2311h0M1070.8 2301.5h0M1223.3 2309.4h0M1133.2 2302.2h0M1072.8 2265h0M1300.8 2318.2h0M1279.6 2316.2h0M1057.2 2261.6h0M1149.8 2309.9h0M1070.8 2267.9h0M1026.5 2287.1h0M1199.9 2320.1h0M1113.6 2291.4h0M1038.6 2239.1h0M983 2051.5h0M983 2094.5h0M983 2099.4h0M983 2131.4h0M983 2146.8h0M983 2181h0M983 2194.8h0M983 2204.7h0M983 2215.2h0M983 2236.6h0M1030.7 2021.2h0M999 2120.4h0M1019.7 2116h0M1030.7 2131.4h0M1043.1 2166.1h0M1049.7 2175.5h0M1094.1 2196.4h0M1094.1 2205.8h0M1094.1 2211.3h0M1094.1 2216.8h0M1094.1 2223.4h0M1126.5 2243.3h0M1149.8 2249.9h0M1126.5 2258.1h0M1153.2 2262.5h0"/>
<path class="sr" d="M1261.1 2347.8h0M1161 2330.5h0M1239.7 2334.3h0M1205.5 2341.1h0M1020.1 2290.8h0M1183.2 2342.5h0M1127.6 2328.1h0M1094.2 2313h0M1221.4 2346.1h0M1286.4 2345.7h0M1305.9 2343.4h0M1233.3 2346.7h0M1286.4 2345.4h0M1189.6 2338.6h0M1137 2342.6h0M1072 2331.2h0M1256 2344.6h0M1167.1 2339.1h0M1277.4 2343.3h0M1043.7 2303.7h0M1010.8 2304.1h0M1229.6 2334.7h0M1076.9 2308.8h0M1306.3 2346.5h0M1094.2 2319.9h0M1111.3 2336.8h0M1094.2 2334h0M1063.5 2291.9h0M1072.8 2332.6h0M1141.5 2322.6h0M1298.2 2348.3h0M1256 2346.9h0M1149.8 2319.2h0M1248 2343.5h0M1072 2298.9h0M1088.4 2332.9h0M1242.5 2344.7h0M1227.7 2340.1h0M1116.5 2325.3h0M1129.8 2339.2h0M1024.7 2286.3h0M1205.5 2340.3h0M1149.8 2329h0M1316.7 2342.9h0M1304.8 2347.7h0M1088.4 2327.1h0M1245.2 2347.6h0M1162.7 2337.1h0M1052.5 2306.9h0M1087.3 2298.2h0M1049.7 2283.6h0M1233.3 2340.8h0M1235.5 2343.5h0M1183.2 2329.4h0M1024.7 2274.7h0M1083.1 2329.2h0M1275 2345h0M1168.4 2331.1h0M1049.7 2298.7h0M1049.7 2311h0M1156 2338.4h0M1059.3 2286.7h0M1261.1 2347.1h0M1205.5 2343.2h0M1281.6 2346.8h0M1183.2 2344.5h0M1247.7 2344.5h0M1226.5 2333.9h0M1306.9 2344.9h0M1298.2 2345.9h0M1159.7 2331.2h0M1242.5 2347.1h0M1120.4 2327.8h0M1142.6 2323.6h0M1191.6 2329.5h0M1287.3 2337.8h0M1183.2 2344.3h0M1221.4 2346.9h0M1049.7 2324.2h0M1043.7 2299.5h0M1233.3 2340.9h0M1158.6 2341.2h0M1166.5 2328.3h0M1029 2284.7h0M1228.4 2333.9h0M1116.5 2333.6h0M1165 2339.7h0M1139.4 2321.6h0M1143.7 2319.3h0M1180.7 2326.5h0M1109.6 2334.6h0M1138.7 2325.6h0M1316.7 2347.9h0M1214 2330.8h0M1307.9 2346.6h0M1250 2334.6h0M1005.2 2267.8h0M1081.9 2299h0M1213.1 2343h0M1180.7 2325.3h0M1236.6 2346h0M1100.8 2311.1h0M1094.2 2328.7h0M1205.5 2331.9h0M1288.9 2344.7h0M1261.1 2345.6h0M1173.7 2341.3h0M1053.3 2282h0M1211.8 2345.4h0M1030.7 2306.5h0M1056 2319.7h0M1135.9 2330.3h0M1131.3 2324.1h0M1253.1 2346.9h0M1171.2 2334.5h0M1283.3 2339h0M1049.7 2321.4h0M1074 2315.7h0M1049.7 2307.2h0M1205.5 2342.8h0M1035.7 2286.7h0M1141.5 2322h0M1275 2342.5h0M1242.5 2347.1h0M1099.8 2333.1h0M1108.1 2313.7h0M1033.1 2275.2h0M1149.8 2333.7h0M1244.5 2345h0M1138.7 2320h0M1132.3 2333.4h0M1017.5 2285.9h0M1027.5 2297.3h0M1129 2328.2h0M1159.7 2323.9h0M1205.5 2346.6h0M1106.6 2336.9h0M1241.3 2345.6h0M1166.5 2330.9h0M1188.4 2344h0M1261.1 2336.3h0M1290.4 2343.3h0M1120.4 2327.2h0M1159.7 2327.3h0M1030.7 2288.8h0M1049.7 2276.6h0M1257.1 2343.1h0M1238.8 2342.5h0M1172.1 2324.5h0M1283.3 2347h0M1201.6 2336.6h0M1277.4 2348h0M1236.2 2339.7h0M1287.7 2348.2h0M1002.6 2284.9h0M1201.6 2332.5h0M1284.4 2347.8h0M1212.4 2340.6h0M1230.2 2344.9h0M1149.8 2327.4h0M1205.5 2329.6h0M1223.3 2342.9h0M1094.2 2300.9h0M1049.7 2320.5h0M1316.7 2348.4h0M1066.4 2326h0M1116.5 2327.4h0M1021.5 2264.5h0M1183.2 2330.6h0M1049.7 2287.3h0M1185.6 2345.4h0M1275 2339.9h0M1069.5 2289.6h0M1306.9 2348.3h0M1094.2 2337.1h0M1116.5 2323.9h0M1044.5 2281.2h0M1179.3 2342.4h0M1016.4 2309.6h0M1049.7 2279.9h0M1191.6 2329.9h0M1201.2 2334.7h0M1043.7 2291.4h0M1140 2334.2h0M1175.1 2333.6h0M1280.9 2337.5h0M1262.6 2346.3h0M1135.9 2340.8h0M1265.4 2346.6h0M1156.5 2343.8h0M1133.7 2330.4h0M1043.7 2305.2h0M1141.9 2339.4h0M1035.1 2268.4h0M1294.5 2347.2h0M1183.2 2338.1h0M1227.7 2338.4h0M1066.4 2308.9h0M1205.5 2342.9h0M1246.4 2345.9h0M1127.3 2341.9h0M1266.6 2343.4h0M1286.4 2343.8h0M1261.1 2345h0M1149.8 2341h0M1222.6 2340.9h0M1205.5 2346h0M1035.7 2277.9h0M1296.5 2347.5h0M1191.6 2329.7h0M1034.3 2301h0M1174.9 2345.3h0M1241.6 2346.2h0M1227.7 2345.8h0M1316.7 2345.4h0M1292.9 2348.2h0M1215.1 2343.7h0M1106.6 2339.7h0M1205.5 2344.2h0M1214 2344.3h0M1038.6 2273.9h0M1316.7 2346.6h0M1154.1 2339.4h0M1242.5 2341.5h0M1198.9 2345.8h0M1074 2323.6h0M1041.9 2326.4h0M1266.1 2343.3h0M1205.5 2342h0M1173.7 2326.6h0M1024.7 2307.5h0M1049.7 2300h0M1302.8 2347.9h0M1143.2 2325.1h0M1083.1 2306.1h0M1131.3 2333.6h0M1188.4 2329.6h0M1241.3 2346.1h0M1316.7 2347.9h0M1183.2 2333.1h0M1024.7 2274.7h0M1202 2344.1h0M1250 2342.7h0M1089.2 2319.7h0M1307.9 2341h0M1135.5 2336.5h0M1222.6 2336.2h0M1239.7 2342h0M1085.7 2316.2h0M1237.7 2343.3h0M1166.5 2344.5h0M1292 2342.6h0M1297.1 2339.2h0M1290.4 2345.1h0M1233.3 2339.8h0M1308.4 2346.8h0M1119 2320.9h0M1241.3 2346.7h0M1097.4 2329.5h0M1269 2340.6h0M1111.3 2327.2h0M1100.8 2331.9h0M1114.1 2308.4h0M1075.1 2315.5h0M1149.8 2336.8h0M1034.3 2265.3h0M1074 2332.8h0M1269 2340.6h0M1145.3 2334.8h0M1221.4 2338.7h0M1102.2 2317h0M1081.1 2319.7h0M1016.4 2296.1h0M1076.4 2301h0M1300 2344.6h0M1034.3 2292.5h0M1060 2289.9h0M1195.4 2334.6h0M1002.6 2275h0M1202.5 2338.3h0M1094.2 2335.6h0M1233.3 2344h0M1169.9 2342.4h0M1138.7 2342.3h0M1094.2 2334.1h0M1265.4 2336.2h0M1028.5 2287.4h0M1258.7 2344.4h0M1200.6 2340h0M1161 2329.6h0M1205.5 2329h0M1097.2 2336.7h0M1018.1 2288.6h0M1279.6 2338.6h0M1087.3 2333.4h0M1038.6 2271.5h0M1126 2318h0M1205.5 2340.5h0M1149.8 2333.9h0M1094.2 2327.7h0M1049.7 2324.8h0M1078.3 2295.3h0M1275 2336.8h0M1175.1 2332.2h0M1116.5 2321h0M1267.6 2347.5h0M1074.8 2312.5h0M1254.1 2347.5h0M1265.4 2341.9h0M1288.1 2344.5h0M1129 2336.7h0M1084.6 2332.3h0M1179.8 2338.3h0M1233.3 2345.5h0M1228.9 2346.5h0M1102.2 2332.9h0M1057.2 2319h0M1233.3 2347.3h0M1029 2271.8h0M1122 2321.1h0M1173.7 2333.9h0M1149.8 2319.8h0M1254.9 2341.8h0M1275 2346.3h0M1269 2339.1h0M1149.8 2343.4h0M1057.2 2280.2h0M1084.6 2308.2h0M1052.5 2279.1h0M1280.9 2346.7h0M1047.2 2293.8h0M1276.7 2344.3h0M1291.7 2342.6h0M1090.6 2316.6h0M1272.2 2347.9h0M1205.5 2330.1h0M1155.2 2328.1h0M1088.4 2317.6h0M1200.6 2341.2h0M1102.8 2306.3h0M983 2197.5h0M983 2226.7h0M983 2232.2h0M983 2236.6h0M983 2244.4h0M983 2249.9h0M983 2254.3h0M983 2258.1h0M983 2262.5h0M983 2266.4h0M983 2270.8h0M983 2275.8h0M1049.7 2214.1h0M1094.1 2241.6h0M1030.7 2238.8h0M1030.7 2244.4h0"/>
<path class="ax" d="M1392.9 2002.3 V2366.4 H1760.9"/>
<text class="k e" x="1386.1" y="2099.5">0.6</text>
<text class="k e" x="1386.1" y="2196.6">0.4</text>
<text class="k e" x="1386.1" y="2293.4">0.2</text>
<text class="k m" x="1409.1" y="2390.7">0.0</text>
<text class="k m" x="1575.9" y="2390.7">0.5</text>
<text class="k m" x="1742.8" y="2390.7">1.0</text>
<path class="tk" d="M1391.6 2090.8h-3.6M1391.6 2187.9h-3.6M1391.6 2284.7h-3.6M1409.1 2367.7v3.4M1575.9 2367.7v3.4M1742.8 2367.7v3.4"/>
<path class="sb" d="M1559.3 2304.4h0M1432.9 2227.9h0M1690.1 2333.6h0M1471.7 2205.8h0M1536.2 2299.9h0M1678.6 2332.7h0M1659.4 2312h0M1567.6 2311.3h0M1699.7 2332.8h0M1564.8 2282.5h0M1456.8 2227.3h0M1651.8 2325.2h0M1683.9 2332h0M1676.1 2318.1h0M1682.1 2333.2h0M1473.3 2282.2h0M1681 2317.5h0M1683.9 2333.3h0M1631.6 2324.1h0M1507.2 2249.5h0M1670.3 2313.9h0M1544.7 2310.9h0M1498.1 2265.9h0M1631.6 2300.2h0M1703.5 2333.2h0M1560.8 2303.5h0M1687.2 2334.8h0M1520.3 2261.1h0M1581.3 2320.3h0M1649.4 2322.2h0M1631.6 2321.3h0M1582.6 2299.8h0M1712.5 2336.7h0M1492.5 2268.8h0M1731.3 2337.8h0M1507.2 2286h0M1603.8 2321.3h0M1730.4 2329.1h0M1644.7 2305.9h0M1442.5 2179h0M1710.5 2326.7h0M1666.5 2325.8h0M1730.9 2333h0M1609.3 2322.4h0M1742.8 2335.1h0M1631.6 2310h0M1723.7 2336.7h0M1568.7 2315h0M1742.8 2332.1h0M1657.2 2323.8h0M1661.6 2327.5h0M1504.4 2282.7h0M1460.4 2232.7h0M1480.6 2269.7h0M1617.7 2322.4h0M1469.8 2198.7h0M1446.2 2232.7h0M1715 2332.4h0M1538.9 2304.3h0M1636 2301.9h0M1587.1 2292.3h0M1612.2 2326.3h0M1701.1 2330.2h0M1464.7 2250.1h0M1643.9 2308.6h0M1647.5 2308.9h0M1557.4 2314.7h0M1687.2 2327.9h0M1546 2306.2h0M1500.1 2283.2h0M1520.3 2240.8h0M1684.8 2325.7h0M1647.5 2330.4h0M1676.1 2333.9h0M1484.2 2283.5h0M1617.7 2321.1h0M1587.1 2307.2h0M1575.9 2310.2h0M1727.6 2328.5h0M1432.9 2176.8h0M1475.8 2283.9h0M1503.2 2276h0M1524.2 2258.2h0M1468 2206.9h0M1557.4 2279.6h0M1617.7 2322.1h0M1509.2 2243.4h0M1647.5 2306.4h0M1433.8 2255.3h0M1707.7 2329.5h0M1552.1 2304.6h0M1691.5 2330.7h0M1609.3 2323.3h0M1592.6 2317.7h0M1639.2 2330h0M1697.7 2328.3h0M1650.1 2329.8h0M1560.8 2304.4h0M1624.4 2326h0M1651.8 2326.8h0M1640.1 2329.8h0M1742.8 2335.2h0M1687.2 2331h0M1501.8 2270.3h0M1529.2 2280.9h0M1534.2 2282.6h0M1468.7 2271.1h0M1492.5 2220.4h0M1575.9 2296.5h0M1563.1 2298.3h0M1580.2 2293.9h0M1495.6 2277.8h0M1625 2317.8h0M1492.5 2277h0M1520.3 2301.4h0M1728.3 2329h0M1464.7 2257h0M1625 2320.6h0M1588.8 2295h0M1549 2305.3h0M1435.4 2208h0M1653 2320.2h0M1558.7 2294.3h0M1504.4 2287.2h0M1617.7 2321.2h0M1668.6 2323.6h0M1508 2234.3h0M1504.4 2241.9h0M1703.5 2335.9h0M1507.2 2257.9h0M1599.8 2307.2h0M1626.7 2325.1h0M1580.7 2293.5h0M1492.5 2272.3h0M1542.6 2267.7h0M1609.3 2325.7h0M1526.9 2301h0M1442.5 2263h0M1641.2 2324.4h0M1676.1 2324.9h0M1723.2 2337.3h0M1450.8 2182h0M1651.8 2328h0M1469.8 2276.9h0M1640.1 2319.5h0M1599.8 2314.2h0M1695.1 2327.1h0M1621.5 2326.3h0M1548.1 2292.9h0M1525.2 2272.8h0M1665.8 2332.1h0M1530.4 2307.2h0M1647.5 2329h0M1682.1 2334.3h0M1456.8 2248.4h0M1464.7 2222.6h0M1614.5 2309.3h0M1542.6 2275h0M1687.2 2328.9h0M1642.7 2328.8h0M1460.4 2218.7h0M1624.4 2324.1h0M1560.8 2268h0M1668.6 2322h0M1725.2 2337.2h0M1596.8 2310.3h0M1540.8 2272.9h0M1690.1 2331.8h0M1484.5 2217.5h0M1638.5 2313.8h0M1500.1 2280.5h0M1679.2 2327.8h0M1673.8 2325.6h0M1695.1 2329.2h0M1513.4 2281.1h0M1464.7 2213.6h0M1460.4 2257.6h0M1550.7 2312.8h0M1525.9 2282.4h0M1742.8 2338.1h0M1723.2 2336.8h0M1676.1 2331.2h0M1609.3 2304.3h0M1678.6 2333.8h0M1536.2 2263.2h0M1691.5 2325.2h0M1520.3 2303.1h0M1535.7 2263.9h0M1682.1 2331.5h0M1469.8 2274.3h0M1672.5 2330.5h0M1565.5 2312.1h0M1542.6 2288.6h0M1728.3 2337.4h0M1507.2 2282.4h0M1712.5 2335.6h0M1526.9 2298.7h0M1498.1 2284.7h0M1591.1 2294.5h0M1520.3 2303.4h0M1520.3 2284.3h0M1584.7 2319.1h0M1623.6 2305.9h0M1641.7 2307.7h0M1668.6 2331.5h0M1715 2330h0M1688.7 2331.1h0M1575.9 2318.5h0M1673.3 2330.3h0M1659.4 2332.3h0M1532 2304.1h0M1685.6 2333.2h0M1544.7 2311.3h0M1742.8 2333.2h0M1492.5 2248.3h0M1553.7 2308.6h0M1641.7 2330.3h0M1460.4 2189.1h0M1720.6 2335.6h0M1469.8 2238.7h0M1490.3 2249.8h0M1697.3 2321.3h0M1609.3 2315.2h0M1592.1 2288.1h0M1594.5 2300h0M1510.2 2245h0M1536.2 2298.4h0M1680.2 2328h0M1709.4 2333.1h0M1606.3 2324.3h0M1558.7 2297.9h0M1510.2 2278.2h0M1596.8 2293h0M1668.6 2325.2h0M1514.5 2266.3h0M1614.5 2317.5h0M1593.5 2296.9h0M1634.8 2308.4h0M1480.6 2268.5h0M1710.5 2334.2h0M1676.1 2330.5h0M1554.2 2271.5h0M1703.5 2332.4h0M1464.7 2260.6h0M1701.1 2328.3h0M1459.2 2245h0M1732.7 2335.7h0M1691.5 2332.2h0M1603.8 2299h0M1520.3 2240.5h0M1530.4 2304.8h0M1520.3 2279h0M1726.1 2337.2h0M1584.7 2284.6h0M1478.6 2235.4h0M1501.8 2269.4h0M1435.8 2168.7h0M1483.3 2223.7h0M1537.4 2292.1h0M1671.3 2327.9h0M1684.8 2326.7h0M1570.9 2283.7h0M1642.7 2330.3h0M1721.3 2333.7h0M1594.5 2310.3h0M1676.1 2315.1h0M1594.5 2318.9h0M1549 2271.2h0M1500.1 2286.3h0M1709.4 2333.7h0M1668.6 2329.3h0M1492.5 2287.1h0M1557.4 2286.3h0M1575.9 2284.1h0M1609.3 2316.8h0M1641.2 2325.2h0M1723.2 2328.8h0M1728.9 2337.3h0M1703.5 2331.6h0M1594.5 2285.3h0M1538.9 2304.1h0M1484.2 2279.1h0M1582.1 2311.6h0M1687.2 2333.8h0M1432.9 2245.4h0M1475.8 2228h0M1719 2336.5h0M1520.3 2297.7h0M1509.2 2249.8h0M1609.3 2297.9h0M1459.2 2251.5h0M1500.1 2251.5h0M1695.1 2328.9h0M1634.8 2312.1h0M1713.8 2335.3h0M1669.8 2319.2h0M1532.7 2280.9h0M1559.8 2300.5h0M1538.9 2307.3h0M1454.6 2227.4h0M1409.1 2020h0M1409.1 2192.6h0M1409.1 2221.7h0M1409.1 2245.9h0M1439.1 2087.4h0M1475.8 2124.7h0M1464.8 2144.1h0M1486.5 2151.4h0M1426.8 2161.1h0M1426.8 2165.9h0M1462.5 2165.9h0M1480.5 2169.8h0M1520.2 2182.9h0M1534.2 2192.6h0M1462.5 2178.1h0M1462.5 2190.2h0M1462.5 2202.3h0M1534.2 2216.8h0M1535.9 2214.4h0M1445.8 2185.3h0M1424.8 2183.9h0"/>
<path class="sr" d="M1514 2298.4h0M1537.4 2331.6h0M1672.5 2328.9h0M1639.2 2336.2h0M1549.6 2314.5h0M1742.8 2347.6h0M1594.5 2329.6h0M1486.1 2285h0M1602.9 2341.3h0M1464.7 2292.5h0M1536.2 2334.7h0M1717.1 2337.4h0M1705.7 2344.2h0M1516.7 2329.3h0M1500.1 2269.1h0M1670.6 2339.6h0M1599.8 2321.3h0M1644.7 2334.7h0M1609.3 2341.8h0M1682.1 2344.2h0M1723.7 2336.2h0M1715 2346.5h0M1588.8 2314.6h0M1520.3 2325.3h0M1525.9 2300.9h0M1575.9 2309.7h0M1617.7 2341.9h0M1678.6 2346.2h0M1566.1 2324.1h0M1647.5 2329.5h0M1508.3 2314.7h0M1504.4 2316.4h0M1681 2332.8h0M1588.8 2317.5h0M1605.4 2315.7h0M1492.5 2283.2h0M1709.4 2338.8h0M1676.1 2333.2h0M1520.3 2281.1h0M1606.3 2343h0M1673.8 2330.5h0M1487.6 2285.5h0M1581.7 2329.8h0M1683.9 2340.8h0M1566.1 2316.2h0M1517.1 2285.6h0M1528.3 2303.8h0M1699.3 2334.7h0M1695.1 2341h0M1637.4 2325.4h0M1623.6 2328.9h0M1527.5 2330.5h0M1719 2339h0M1534.2 2295.4h0M1623.6 2319.4h0M1492.5 2284h0M1546 2307.1h0M1561.6 2335h0M1587.9 2329.3h0M1637.4 2338.9h0M1680.2 2340.1h0M1470.9 2312h0M1494.9 2275h0M1614.5 2323.9h0M1464.7 2296.9h0M1653.8 2336.8h0M1594.5 2312.5h0M1640.1 2336.2h0M1636 2323.3h0M1676.1 2332.8h0M1542.6 2317.2h0M1676.1 2345.1h0M1583.9 2334.6h0M1542.6 2299.5h0M1454.6 2256.4h0M1448.4 2244.1h0M1678.6 2334.3h0M1624.4 2334h0M1559.3 2337h0M1702.4 2345.7h0M1523.5 2300.9h0M1626 2340.5h0M1682.1 2343h0M1469.8 2276.4h0M1672 2339h0M1609.3 2336.6h0M1575.9 2340.2h0M1520.3 2306.5h0M1564.8 2310.5h0M1514.5 2288.5h0M1575.9 2309.4h0M1708.6 2345.5h0M1698.3 2337.3h0M1532 2289.9h0M1585.8 2336.7h0M1742.8 2342.6h0M1537.4 2289.6h0M1483.3 2306.2h0M1591.1 2341.2h0M1622.7 2331.2h0M1732 2347.3h0M1655 2342.3h0M1702.8 2341.4h0M1575.9 2311.7h0M1430 2237.9h0M1553.7 2338h0M1611.3 2335.5h0M1622.3 2321.5h0M1742.8 2343.2h0M1427.1 2232.7h0M1598.5 2340.3h0M1637.9 2335.8h0M1695.1 2345.8h0M1687.2 2333h0M1585.8 2334.2h0M1591.1 2337h0M1720.6 2338.6h0M1524.6 2329.2h0M1728.3 2347.1h0M1639.2 2336.4h0M1662.3 2333.1h0M1619.9 2337.6h0M1591.1 2334.3h0M1667.4 2329.9h0M1680.2 2332.9h0M1676.1 2345.1h0M1631.6 2329.6h0M1575.9 2336.4h0M1510.7 2319.9h0M1656.7 2341.2h0M1628.4 2343.3h0M1599.8 2333h0M1642.7 2341h0M1719.8 2339.8h0M1523.5 2330.1h0M1456.8 2241.1h0M1733.5 2345.7h0M1730.4 2342.3h0M1687.2 2346.5h0M1544.7 2337.2h0M1439.4 2227.2h0M1464.7 2309.7h0M1617.7 2336.9h0M1719 2345.2h0M1599.8 2341.6h0M1599.8 2313.8h0M1663.3 2334.1h0M1609.3 2315h0M1504.4 2290.5h0M1673.3 2341.1h0M1575.9 2332.3h0M1695.1 2332.5h0M1492.5 2307.4h0M1631.6 2332.5h0M1505.7 2304.1h0M1567.2 2339.3h0M1469.8 2293.5h0M1656.3 2328.8h0M1733.3 2342.8h0M1584.7 2323.7h0M1492.5 2317.7h0M1631.6 2324.6h0M1553.7 2332.9h0M1631.6 2323.2h0M1674.1 2339.1h0M1582.1 2319.5h0M1515.9 2319.7h0M1532.7 2285.7h0M1719 2344.3h0M1570.6 2329.1h0M1472.2 2286.9h0M1695.1 2334h0M1564.8 2331.9h0M1642.7 2344.5h0M1695.1 2332.5h0M1599.8 2339.9h0M1618.9 2319.2h0M1558.7 2311.4h0M1627.3 2336.7h0M1475.8 2303.4h0M1625 2327h0M1520.3 2287.2h0M1550.7 2338h0M1516.7 2322h0M1711 2344.5h0M1640.1 2333.7h0M1701.1 2338.7h0M1515.9 2278.5h0M1655 2334.8h0M1546.5 2305.2h0M1659.4 2342.7h0M1525.9 2333.8h0M1691.5 2340.7h0M1724.8 2340.8h0M1450.8 2269.4h0M1599.8 2323.5h0M1520.3 2326.8h0M1471.7 2287.9h0M1689.4 2341.6h0M1589.9 2337.3h0M1679.2 2345.1h0M1582.1 2329h0M1587.1 2327.5h0M1530.4 2328.4h0M1492.5 2312.6h0M1636 2344.7h0M1436.9 2275.5h0M1707.7 2341.7h0M1696.8 2338h0M1730.9 2347.3h0M1558.7 2332.5h0M1642.7 2332.9h0M1742.8 2340.9h0M1498.1 2279.8h0M1614.5 2342.2h0M1716.5 2347.2h0M1504.4 2274.3h0M1485.4 2277.3h0M1575.9 2326.6h0M1568 2316.3h0M1537.4 2297.2h0M1540.6 2317.3h0M1609.3 2332.7h0M1530.4 2298.6h0M1588.8 2338h0M1542.6 2297h0M1552.1 2312.3h0M1575.9 2322.6h0M1742.8 2347.6h0M1580.7 2326.6h0M1625 2333.3h0M1742.8 2346.5h0M1591.1 2314h0M1676.1 2333.6h0M1442.5 2228.5h0M1676.1 2340.8h0M1439.4 2245h0M1475.8 2313.4h0M1659.4 2343.3h0M1732 2346.8h0M1611.7 2330.7h0M1464.7 2302h0M1715 2335.7h0M1587.9 2323.4h0M1515.9 2292.2h0M1537.4 2327.9h0M1682.1 2345.6h0M1609.3 2330.9h0M1575.9 2340.2h0M1587.1 2336.7h0M1534.2 2308.8h0M1548.1 2302.2h0M1507.2 2292.8h0M1523.8 2288.4h0M1504.4 2271.5h0M1557.4 2307.8h0M1659.4 2332.3h0M1509.2 2284h0M1575.9 2334.8h0M1548.1 2315.7h0M1557.4 2335h0M1542.6 2313.8h0M1734.2 2344.3h0M1644.7 2334.8h0M1569.3 2311.8h0M1715.7 2342.3h0M1719 2340.9h0M1589.5 2336.1h0M1517.1 2295.3h0M1505.7 2315.6h0M1588.8 2323.5h0M1585.2 2315.3h0M1631.6 2344.6h0M1655 2326.2h0M1534.2 2328.9h0M1642.7 2328.9h0M1619.9 2331.7h0M1500.9 2281.2h0M1663.8 2328.3h0M1701.1 2334h0M1509.2 2327h0M1623.6 2341.9h0M1504.4 2289.9h0M1427.6 2272h0M1659.4 2341.5h0M1634.6 2322.7h0M1733 2342.5h0M1569.3 2327.8h0M1742.8 2340.1h0M1733.8 2346.5h0M1440.9 2269.6h0M1631.6 2325.9h0M1561.6 2318.2h0M1492.5 2279.2h0M1627.7 2344.4h0M1475.8 2295.3h0M1461.2 2281.2h0M1584.7 2332.1h0M1548.1 2335h0M1672 2329.4h0M1514.5 2329.8h0M1583.2 2327.2h0M1691.5 2340.3h0M1526.9 2330.5h0M1520.3 2288.6h0M1692.7 2346.7h0M1520.3 2300h0M1443.6 2263.2h0M1647.5 2338.5h0M1716.1 2341.6h0M1590.3 2314.9h0M1542.6 2309.8h0M1603.8 2334h0M1725.2 2342.9h0M1542.6 2331.6h0M1575.9 2324.2h0M1479.4 2283.9h0M1705.7 2345.7h0M1474 2271.8h0M1492.5 2275h0M1599.8 2312.6h0M1477.8 2263.8h0M1550.7 2322.8h0M1528.3 2333.6h0M1542.6 2319.2h0M1617.7 2343.7h0M1642.7 2334.4h0M1582.1 2315.6h0M1534.2 2295.7h0M1668.6 2336.4h0M1591.1 2336.2h0M1617.7 2343.7h0M1492.5 2294.4h0M1635.2 2326h0M1635.2 2329.6h0M1687.2 2346.5h0M1552.1 2319h0M1623.6 2323.9h0M1706.7 2338.2h0M1542.6 2312.2h0M1640.1 2345h0M1524.6 2293.1h0M1492.5 2300.9h0M1475.8 2312.6h0M1575.9 2319.8h0M1464.7 2273.9h0M1676.1 2343.5h0M1461.8 2262.8h0M1637.4 2335.1h0M1462.5 2279.6h0M1687.2 2345.6h0M1742.8 2342.4h0M1647.5 2341.5h0M1616.2 2343.7h0M1569.3 2338.7h0M1648.7 2340.6h0M1711 2343.5h0M1552.1 2327.5h0M1627.7 2344.4h0M1586.4 2340h0M1409.1 2216.8h0M1409.1 2219.3h0M1409.1 2236.2h0M1409.1 2263.9h0M1409.1 2279.9h0M1485.9 2206.2h0M1475.8 2216.8h0M1482.5 2229h0M1520.2 2250.8h0"/>
<path class="ax" d="M1800.1 2002.3 V2366.4 H2169"/>
<text class="k e" x="1793.3" y="2071">6</text>
<text class="k e" x="1793.3" y="2167.6">4</text>
<text class="k e" x="1793.3" y="2264.1">2</text>
<text class="k e" x="1793.3" y="2360.4">0</text>
<text class="k m" x="1816" y="2390.7">0.0</text>
<text class="k m" x="1983" y="2390.7">0.5</text>
<text class="k m" x="2150" y="2390.7">1.0</text>
<path class="tk" d="M1798.8 2062.3h-3.6M1798.8 2158.9h-3.6M1798.8 2255.4h-3.6M1798.8 2351.7h-3.6M1816 2367.7v3.4M1983 2367.7v3.4M2150 2367.7v3.4"/>
<path class="sb" d="M1991 2286.1h0M1963.4 2258.1h0M2016.4 2312.7h0M2150 2345.4h0M1897 2213.7h0M1927.3 2284.6h0M2051.8 2326.4h0M1905.1 2319.1h0M2083.2 2328.4h0M1969.1 2317.9h0M2102.3 2342.7h0M2094.3 2333.5h0M2033.1 2313.1h0M2016.4 2335.1h0M2032.1 2292.2h0M2038.7 2302.4h0M2138.1 2341.8h0M1916.2 2306.6h0M1936.2 2236.7h0M2116.6 2337.9h0M2133.3 2343.2h0M1913 2246.7h0M2072.9 2324.1h0M2105.5 2342.9h0M2009.9 2288.4h0M2016.4 2319.1h0M2010.8 2317.6h0M2131.9 2341.6h0M2088.1 2341.9h0M1969.1 2305.6h0M2072.9 2297.9h0M2096.6 2337.1h0M2014.6 2308h0M2021.5 2285.1h0M1987.8 2302.1h0M2105.5 2331.9h0M1927.3 2303.6h0M1930.5 2321.4h0M2150 2342.1h0M2013.4 2305h0M2141.7 2344h0M1975.7 2321.7h0M2013 2336.2h0M2023.3 2334.3h0M2047.2 2298.1h0M2016.4 2313.2h0M1893.1 2288.7h0M1983 2302.9h0M1994.1 2328.6h0M1983 2306.2h0M1966.3 2337.1h0M2140.5 2344.3h0M1835.1 2138.4h0M2033.8 2319.5h0M1941.2 2250.2h0M2032.1 2302.3h0M2058.2 2338.6h0M1918.8 2296.6h0M2045 2307.1h0M1992.8 2299.4h0M2106.4 2322.2h0M1893.1 2216.5h0M2038.7 2340.7h0M2122.2 2326.9h0M1907.1 2326.3h0M2150 2343.4h0M2080.9 2340.6h0M2122.2 2334.8h0M2016.4 2305.4h0M2103.6 2328.6h0M2030.7 2317.5h0M2108.2 2339.4h0M1941.2 2299.9h0M2124.3 2340h0M1873.6 2226.8h0M2077.8 2296.6h0M2006.9 2315h0M2021.5 2336.6h0M1962.1 2339.3h0M1936.6 2308.6h0M1966.3 2309.3h0M1954.2 2294.2h0M2056.1 2313.2h0M1908.8 2268.8h0M2025.9 2319.5h0M2024.8 2338.8h0M2054.6 2325.8h0M2127 2343.7h0M1863.7 2261.6h0M2094.3 2319.3h0M1936.2 2331.9h0M1959.1 2311.9h0M2066.5 2321h0M1993.4 2340.2h0M1923.7 2311.8h0M2132.4 2344.9h0M1941.2 2316.9h0M1983 2320.1h0M1959.1 2316.2h0M1935.9 2248.1h0M2001.6 2298.8h0M2122.2 2330.6h0M2114.8 2339.5h0M1949.6 2276.9h0M1949.6 2271.6h0M1975.7 2339.8h0M2092.4 2342.7h0M2047.2 2337.1h0M2094.3 2332.9h0M1998.2 2327.5h0M1918.8 2244h0M2118.2 2335.8h0M1944.5 2244.4h0M1882.8 2301.2h0M1983 2320.8h0M1944.5 2332.5h0M2127.7 2335.7h0M1848.3 2310.6h0M2066.5 2327.2h0M1943.7 2251.6h0M1999.7 2331.5h0M2108.2 2341.8h0M2066.5 2339.2h0M2016.4 2293.1h0M1916.2 2335.7h0M2066.5 2308.5h0M2038.7 2319.5h0M2094.3 2338.8h0M1845 2289.4h0M1849.4 2309.6h0M1969.1 2293.7h0M1924.5 2260.7h0M2047.2 2342h0M1954.2 2306.7h0M1976.3 2293.3h0M1983 2330.4h0M1962.1 2312.2h0M2038.7 2322.5h0M1996.9 2309.9h0M2087.4 2340.2h0M2133.3 2340.8h0M2069.8 2301.9h0M2111.5 2323.2h0M2001.6 2318.8h0M1873.3 2253.1h0M2042.6 2313.7h0M2018.4 2297.4h0M2124.9 2328.8h0M1967.8 2264h0M1865.1 2284.3h0M2075.8 2306.4h0M2025.9 2334.5h0M1970.2 2288.8h0M2116.6 2337.9h0M2112.9 2340.9h0M1949.6 2276.4h0M2021.5 2332h0M2038.7 2339.5h0M1935.3 2341.6h0M2127 2344.8h0M1949.6 2293.6h0M2059.7 2291.1h0M1959.1 2298.6h0M2066.5 2299.8h0M2038.7 2300.3h0M2038.7 2330.9h0M2035.5 2307.6h0M2150 2344.2h0M2038.7 2323.4h0M2001.6 2337.1h0M1868.2 2198.4h0M1911.4 2283.4h0M1949.6 2307.3h0M1994.9 2320.2h0M1918.8 2336.6h0M2066.5 2340.6h0M1882.8 2305.7h0M1951.4 2323.7h0M2038.7 2321.1h0M1955.2 2330h0M1954.2 2335.6h0M2075.8 2334.3h0M2052.6 2323.8h0M2032.1 2342h0M1857.8 2249.4h0M2043.7 2303.2h0M1943.2 2308.5h0M1949.6 2291h0M1899.5 2273.4h0M1834.6 2216.3h0M1957.7 2303.7h0M2002.6 2290h0M1964.4 2267.6h0M1949.6 2289.1h0M2054.6 2331.6h0M2075.8 2327.5h0M2035.7 2337.2h0M1959.1 2317.1h0M2131.4 2344h0M1949.6 2268.5h0M2054.6 2310.2h0M2122.2 2340.2h0M2119.6 2331.2h0M2021.5 2327.2h0M2135.5 2332.9h0M1859.1 2273.7h0M2050.7 2323.4h0M2044.5 2314.4h0M2106.4 2333.3h0M2066.5 2339.6h0M2021.5 2330.6h0M1836.9 2295.7h0M2057.9 2292.4h0M1890.2 2289.6h0M2010.8 2297.3h0M1960.4 2257.6h0M1886.3 2300h0M2118.2 2332.5h0M1873.3 2287.2h0M2047.2 2310h0M2091.9 2317.3h0M2021.5 2322.6h0M2009.9 2294.4h0M2097.3 2325.6h0M1882.8 2299h0M2092.7 2342.2h0M2122.2 2327.4h0M1951.4 2259.4h0M1945.9 2300.4h0M2014.3 2339h0M2133.3 2335.2h0M1983 2342h0M1874.9 2287.1h0M2102.3 2342.4h0M1943.7 2290.3h0M1882.8 2323.4h0M1954.2 2285.3h0M1933.9 2212.6h0M2028.5 2334.3h0M2087.4 2314.6h0M2049.8 2334.4h0M1959.1 2247h0M2056.1 2311.1h0M2049.8 2341.9h0M2024.8 2319h0M2028.5 2315.5h0M2083.2 2323h0M2058.9 2316.7h0M1856.1 2247.9h0M2006.9 2298.4h0M1940.1 2255.6h0M2112.9 2339.6h0M2116.6 2325.9h0M2004.8 2326.2h0M2020.1 2319.8h0M2028.5 2306h0M1946.7 2294.9h0M2013.9 2294.1h0M2079.2 2313h0M2138.9 2345.2h0M2018.4 2328.7h0M1971.1 2260.5h0M2089.3 2315.2h0M1853.1 2260.6h0M2118.7 2332.3h0M2097.3 2334.4h0M2100.9 2340.3h0M2006.9 2339.2h0M1988.1 2297.6h0M1983 2319.9h0M2078.4 2317.2h0M1915 2230.2h0M1922.9 2332.8h0M2070.9 2326h0M1933.9 2331.7h0M1967.8 2326h0M2006.9 2333.8h0M1991.8 2332.9h0M2125.3 2339.5h0M1952.6 2335.2h0M1949.6 2301.4h0M1924.5 2278.3h0M2122.2 2341.7h0M2035.7 2331h0M1857.8 2020.3h0M1907.2 2103.3h0M1904.5 2130.8h0M1874.5 2133.7h0M1877.8 2134.7h0M1897.2 2158.8h0M1836 2179.5h0M1857.8 2193.5h0M1816 2227.3h0M1816 2293.8h0"/>
<path class="sr" d="M2054.6 2345.4h0M1916.2 2347.4h0M1983 2349.4h0M1945.9 2345h0M2038.7 2346.1h0M1949.6 2349.2h0M2016.4 2342.8h0M1867.4 2341.6h0M1983 2345.8h0M1973.2 2348.3h0M2122.2 2349h0M1956.6 2347.4h0M1899.5 2334.7h0M2140.5 2343.6h0M2027.5 2348.9h0M1975 2349.1h0M2132.4 2346.4h0M1983 2348.7h0M2094.3 2345.7h0M2109.9 2343.9h0M2150 2347.4h0M2038.7 2349.1h0M2150 2345.2h0M2035.2 2341.4h0M2112.9 2346.2h0M1983 2341.5h0M1959.1 2341.9h0M1952.6 2344.6h0M1949.6 2348.4h0M1971.1 2349.5h0M1887.6 2337.2h0M2112.9 2348.7h0M2066.5 2346h0M1991.8 2349h0M2097.8 2349.8h0M2035.7 2343.1h0M1949.6 2346.6h0M1974.7 2346.9h0M2032.6 2344.6h0M2130.9 2349.3h0M1960.7 2344.5h0M2034.4 2348h0M1964.4 2342.7h0M1968.7 2349.8h0M1941.2 2342.9h0M1887.6 2338.9h0M2053.3 2346.8h0M1994.9 2346.6h0M2075.8 2341.9h0M2054.6 2343.4h0M2026.9 2347.4h0M2013.4 2341.7h0M2129.1 2349.8h0M2032.1 2349.6h0M2009.4 2347.8h0M2024.8 2348.7h0M2021.5 2343.6h0M2150 2348h0M2119.6 2346.7h0M2098.6 2350.2h0M1976.8 2342.3h0M2122.2 2346.1h0M2024.8 2342.3h0M2060.9 2345.2h0M2072.1 2344.1h0M1949.6 2348.2h0M1983 2343.5h0M1949.6 2343.3h0M2116.6 2348h0M2057.2 2345.3h0M2136.6 2348.9h0M2123.6 2343.9h0M2010.8 2344h0M1927.3 2343.1h0M1995.8 2348.8h0M1856.5 2350.2h0M1930.3 2341.3h0M2132.4 2347.8h0M1992.3 2349.4h0M2072.9 2345h0M2072.9 2343.7h0M2110.7 2345h0M1963 2341.8h0M2038.7 2344.4h0M1944.5 2344.9h0M1983 2349.8h0M1853.1 2335.6h0M1839.9 2333.5h0M2066.5 2347.7h0M2133.3 2343.6h0M1927.3 2347.1h0M2114.2 2347.4h0M2075.8 2344.5h0M1882.8 2342h0M2083.2 2346.5h0M2094.3 2348.3h0M2006.9 2347.5h0M1943.7 2349h0M1941.2 2345.4h0M2104.5 2350.2h0M2038.7 2341.8h0M1895.5 2349h0M2054.6 2341.3h0M1991 2342.6h0M2079.7 2348.7h0M1920.4 2343.7h0M2054.6 2344.2h0M2006.9 2348.7h0M2066.5 2344.2h0M2109.9 2344.6h0M1955.2 2346.6h0M2108.2 2344.9h0M2056.1 2348.5h0M1937.5 2348.4h0M1916.2 2347.5h0M2133.3 2345.7h0M2119.6 2348.1h0M2138.9 2349h0M1882.8 2341h0M2097.3 2348.2h0M2032.1 2341.9h0M2083.2 2346.1h0M1966.3 2345.9h0M2112.9 2347.7h0M2001.6 2348.6h0M2051 2345.9h0M1949.6 2348.5h0M2078.4 2348.4h0M2075.8 2341.3h0M2045.6 2350.2h0M2022.3 2349.9h0M2075.8 2344.5h0M2001.6 2345.4h0M2150 2345.2h0M1849.4 2346.7h0M1953.5 2343.6h0M2073.7 2349.9h0M2002.6 2346.6h0M2075.8 2347.4h0M1955.2 2346.9h0M1908.8 2347.9h0M1921.5 2344.5h0M2083.2 2347h0M1915 2341.3h0M2023.3 2348.1h0M1983 2347.8h0M2116.6 2346.8h0M1890.2 2339.5h0M2150 2346.6h0M1863.7 2337.4h0M1951.7 2343.8h0M2016.4 2346.1h0M1878.6 2349.9h0M2108.2 2348.8h0M1959.1 2350.1h0M1861.5 2344.7h0M2014.6 2343.7h0M2030.7 2348.9h0M2124.3 2345h0M1927.3 2341.7h0M1902.6 2338h0M2103.6 2345.9h0M2078.4 2345.2h0M2052.6 2342.2h0M2047.2 2350.1h0M2003.9 2346.7h0M2104.5 2348.6h0M1921.5 2342.3h0M2066.5 2347.7h0M2094.3 2346.4h0M1983 2344.2h0M2038.7 2343.5h0M1904.4 2343.4h0M2041.5 2350h0M1999.7 2344h0M1853.1 2347.9h0M2024.8 2347h0M2005.6 2345.9h0M2087.4 2346.5h0M1933.9 2348.5h0M2119.6 2347.9h0M1943.2 2343.1h0M2110.7 2348.7h0M2086.8 2347.6h0M2041.7 2344.4h0M2090.1 2345.8h0M2063.4 2344.2h0M2029.4 2349.5h0M2061.6 2343.2h0M1899.5 2336.9h0M1941.2 2344h0M2061.6 2348.6h0M2099.9 2345.1h0M2116.6 2344.7h0M2110.7 2346.3h0M2078.4 2342.8h0M1911.4 2348.9h0M2141.2 2347.3h0M2125.3 2349.8h0M1835.6 2337.2h0M1971.9 2345.5h0M1953.5 2345.1h0M1930.8 2343.7h0M2066.5 2349h0M2004.8 2348.5h0M1854.2 2340.8h0M1854.5 2348.9h0M2038.7 2347.1h0M2094.3 2348.9h0M2111.5 2347.1h0M1966.3 2345.9h0M2122.2 2344h0M1983 2348.3h0M2083.2 2348h0M2066.5 2344.3h0M2102.3 2344.4h0M1949.6 2342.8h0M2044.5 2349h0M2030.7 2349.7h0M1934.5 2347.7h0M2024.8 2342.1h0M2124.3 2348.7h0M1921.5 2343.6h0M1882.8 2340.6h0M1911.4 2344.1h0M1890.2 2334.7h0M2150 2345.9h0M2011.8 2346h0M1914.2 2348.6h0M2141.4 2349.7h0M2006.9 2350.2h0M2038.7 2347.8h0M1870.2 2339h0M2048.3 2349.2h0M1915.3 2342.7h0M2032.1 2348h0M2089.3 2347.9h0M2066.5 2347.5h0M2016.4 2349h0M1975 2345.6h0M1983 2343.3h0M1983 2341.1h0M2004.8 2343.1h0M2089.3 2344.9h0M1886.3 2337.6h0M2114.8 2347.5h0M1983 2342.8h0M1887.6 2350h0M2075.8 2349.3h0M1932.2 2350h0M2032.1 2350h0M1944.5 2342.4h0M1914.2 2350h0M2129.1 2346.7h0M2049.8 2347.8h0M2024.8 2346.6h0M1997.3 2345.2h0M2089.3 2344.6h0M2049.8 2343.6h0M1853.1 2346h0M2028.5 2342.4h0M1921.5 2343.9h0M1991.3 2346.2h0M2038.7 2344.7h0M2072.9 2345.6h0M2056.5 2343.7h0M2121.4 2349.2h0M2031.5 2346.1h0M1983 2342.5h0M2033.1 2350.2h0M1871.7 2344.2h0M2129.1 2345.6h0M1955.2 2347.4h0M2094.3 2346.1h0M2086.4 2349.9h0M2102.3 2346.5h0M1959.1 2342h0M2073.7 2348.6h0M2054.6 2344.7h0M2085.4 2350h0M1886.8 2347.6h0M2021.5 2344.7h0M2009.4 2348.5h0M2111.8 2343.7h0M2130.4 2346.7h0M1994.1 2344.1h0M1886.3 2336.3h0M1944.5 2343.9h0M2038.7 2342.6h0M1853.1 2346.1h0M2001.6 2349.4h0M2012.5 2349.2h0M1838.3 2349.2h0M2118.2 2347.1h0M1913 2342.8h0M2133.3 2345.2h0M1972.6 2341.6h0M2016.4 2348.5h0M2006.9 2344.6h0M1927.3 2342.6h0M2099.4 2346.6h0M1860.5 2336.8h0M2038.7 2343.7h0M1914.2 2345.5h0M1889.1 2349.1h0M1949.6 2348.1h0M2006.9 2349.6h0M2127.7 2343.7h0M2090.4 2347.9h0M1933.4 2341.7h0M2054.6 2341.2h0M1913 2342.8h0M1908.1 2347.9h0M1938.5 2343.8h0M1983 2342.7h0M1961.2 2346.8h0M1964.4 2347.2h0M2038.7 2347.5h0M2038.7 2342.4h0M1861.5 2345.4h0M2138.5 2348.1h0M2083.2 2346.8h0M1915.3 2345.9h0M1987.3 2345.3h0M2123.3 2350.2h0M1983 2350.2h0M1955.2 2343.4h0M2045.6 2347.1h0M1816 2350.3h0M1816 2348.8h0M1816 2347.4h0M1816 2345.9h0"/>
</svg></body></html>
